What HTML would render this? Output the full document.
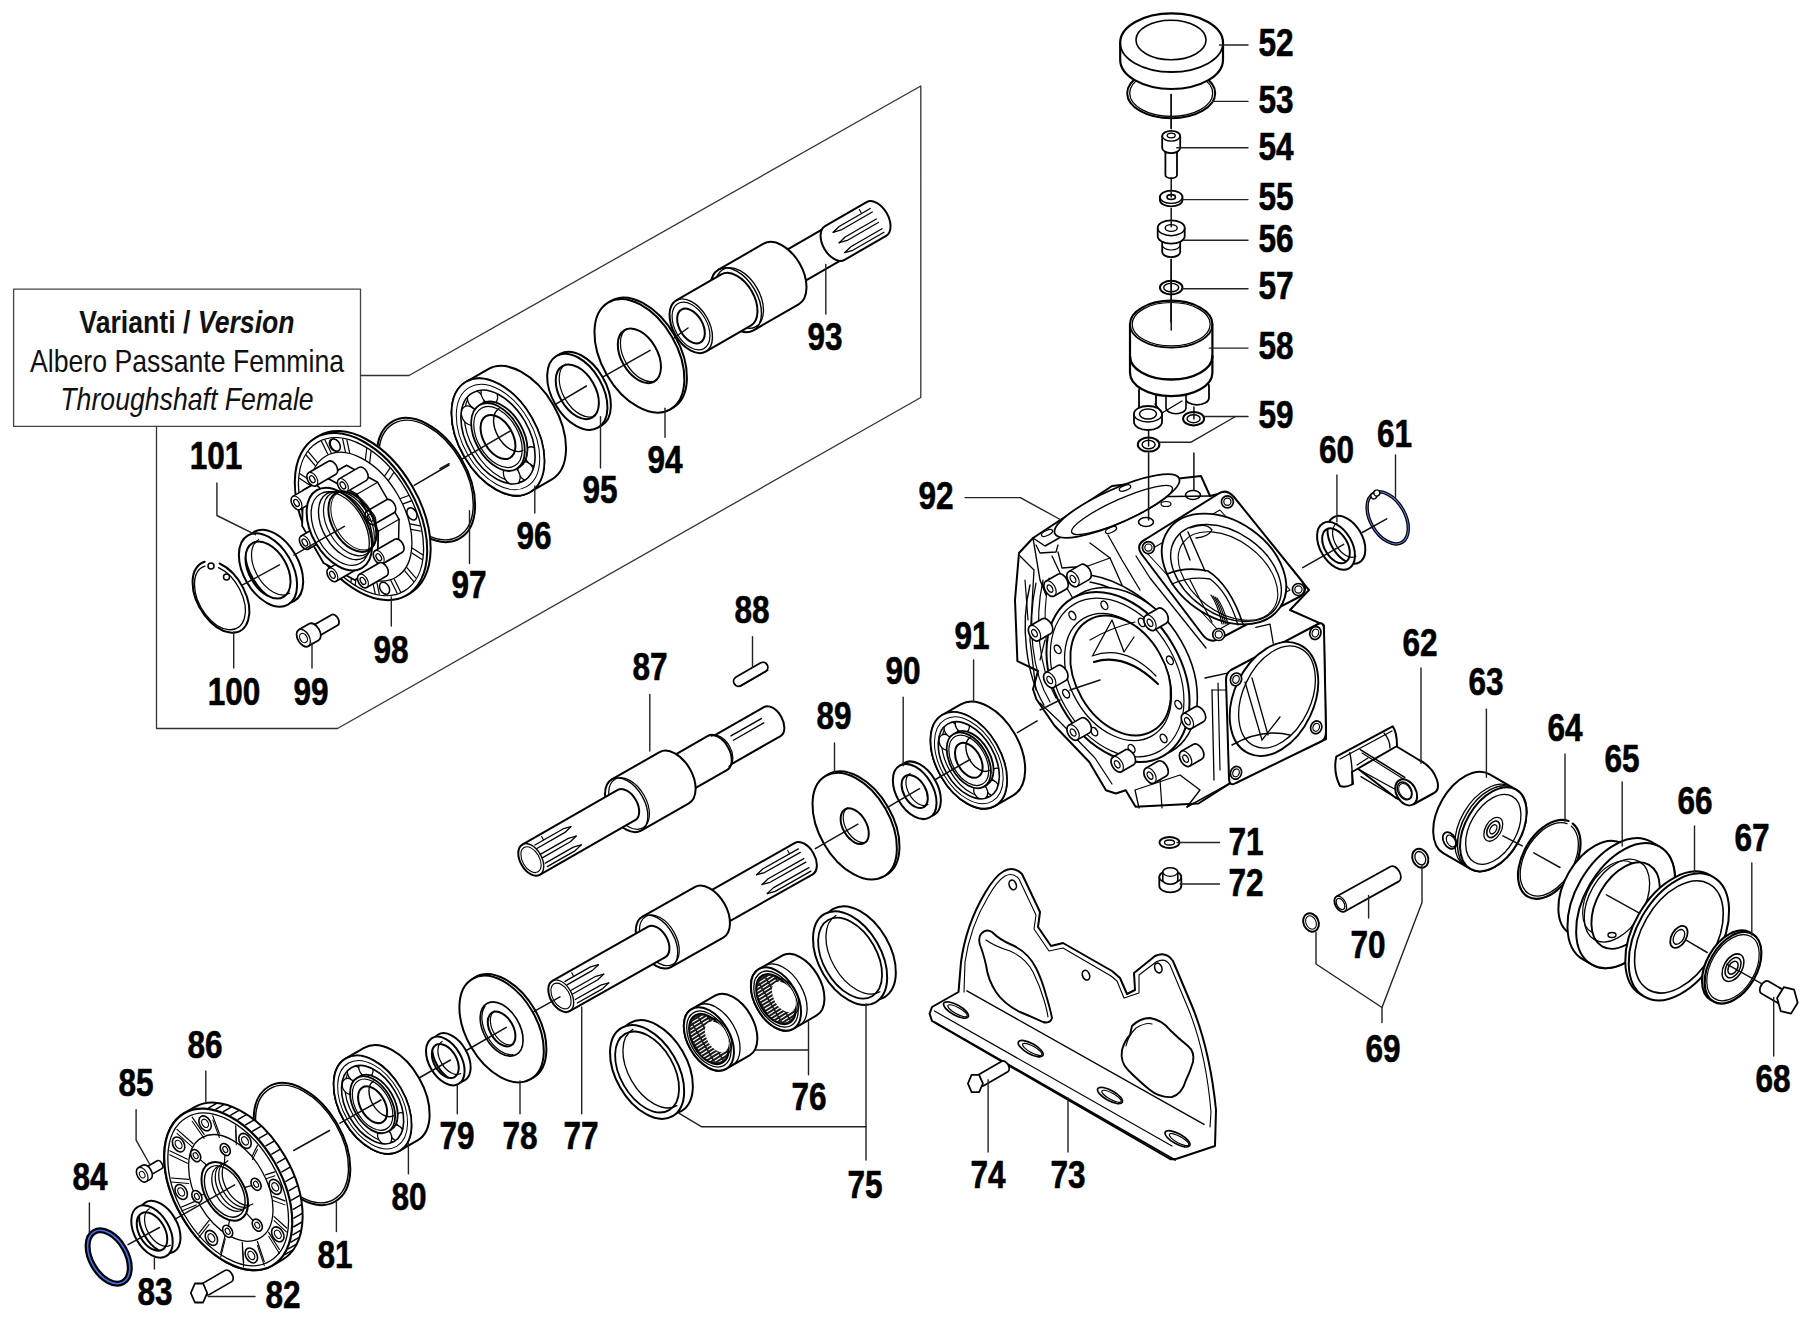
<!DOCTYPE html>
<html><head><meta charset="utf-8"><style>
html,body{margin:0;padding:0;background:#fff;overflow:hidden}
svg{display:block}
.n{font-family:"Liberation Sans",sans-serif;font-weight:bold;font-size:38.5px;text-anchor:middle;fill:#000;stroke:#000;stroke-width:0.6px}
.t1{font-family:"Liberation Sans",sans-serif;font-size:31px;text-anchor:middle;fill:#111}
</style></head><body>
<svg width="1814" height="1330" viewBox="0 0 1814 1330" stroke-linejoin="round" stroke-linecap="round">
<rect width="1814" height="1330" fill="#fff"/>
<g transform="translate(426 480) rotate(-30)">
<ellipse cx="0" cy="0" rx="41.2" ry="67.5" fill="none" stroke="#000" stroke-width="2.0" />
<ellipse cx="0" cy="0" rx="39.6" ry="65" fill="none" stroke="#000" stroke-width="1.4" />
</g>
<g transform="translate(361 516.6) rotate(-30)">
<ellipse cx="4" cy="0" rx="55.5" ry="91" fill="#fff" stroke="#000" stroke-width="2" />
<ellipse cx="0" cy="0" rx="55.5" ry="91" fill="#fff" stroke="#000" stroke-width="2" />
<ellipse cx="0" cy="0" rx="52.5" ry="86" fill="none" stroke="#000" stroke-width="1.3" />
<ellipse cx="0" cy="0" rx="42.7" ry="70" fill="none" stroke="#000" stroke-width="1.3" />
<path d="M51.8,5.5 L43.3,4.1" fill="none" stroke="#000" stroke-width="1.2" />
<path d="M51.4,11.5 L42.9,10.1" fill="none" stroke="#000" stroke-width="1.2" />
<path d="M46.5,37.6 L39.0,30.9" fill="none" stroke="#000" stroke-width="1.2" />
<path d="M44.8,42.8 L37.3,36.2" fill="none" stroke="#000" stroke-width="1.2" />
<path d="M34.2,63.9 L28.8,53.1" fill="none" stroke="#000" stroke-width="1.2" />
<path d="M31.4,67.7 L26.0,56.9" fill="none" stroke="#000" stroke-width="1.2" />
<path d="M16.7,80.5 L14.2,67.1" fill="none" stroke="#000" stroke-width="1.2" />
<path d="M13.2,82.3 L10.8,68.8" fill="none" stroke="#000" stroke-width="1.2" />
<path d="M-3.4,84.9 L-2.5,70.9" fill="none" stroke="#000" stroke-width="1.2" />
<path d="M-7.0,84.3 L-6.1,70.3" fill="none" stroke="#000" stroke-width="1.2" />
<path d="M-22.9,76.3 L-18.9,64.0" fill="none" stroke="#000" stroke-width="1.2" />
<path d="M-26.1,73.5 L-22.1,61.1" fill="none" stroke="#000" stroke-width="1.2" />
<path d="M-39.0,56.1 L-32.4,47.3" fill="none" stroke="#000" stroke-width="1.2" />
<path d="M-41.3,51.5 L-34.7,42.6" fill="none" stroke="#000" stroke-width="1.2" />
<path d="M-49.1,27.4 L-40.9,23.4" fill="none" stroke="#000" stroke-width="1.2" />
<path d="M-50.2,21.7 L-42.0,17.6" fill="none" stroke="#000" stroke-width="1.2" />
<path d="M-51.8,-5.5 L-43.3,-4.1" fill="none" stroke="#000" stroke-width="1.2" />
<path d="M-51.4,-11.5 L-42.9,-10.1" fill="none" stroke="#000" stroke-width="1.2" />
<path d="M-46.5,-37.6 L-39.0,-30.9" fill="none" stroke="#000" stroke-width="1.2" />
<path d="M-44.8,-42.8 L-37.3,-36.2" fill="none" stroke="#000" stroke-width="1.2" />
<path d="M-34.2,-63.9 L-28.8,-53.1" fill="none" stroke="#000" stroke-width="1.2" />
<path d="M-31.4,-67.7 L-26.0,-56.9" fill="none" stroke="#000" stroke-width="1.2" />
<path d="M-16.7,-80.5 L-14.2,-67.1" fill="none" stroke="#000" stroke-width="1.2" />
<path d="M-13.2,-82.3 L-10.8,-68.8" fill="none" stroke="#000" stroke-width="1.2" />
<path d="M3.4,-84.9 L2.5,-70.9" fill="none" stroke="#000" stroke-width="1.2" />
<path d="M7.0,-84.3 L6.1,-70.3" fill="none" stroke="#000" stroke-width="1.2" />
<path d="M22.9,-76.3 L18.9,-64.0" fill="none" stroke="#000" stroke-width="1.2" />
<path d="M26.1,-73.5 L22.1,-61.1" fill="none" stroke="#000" stroke-width="1.2" />
<path d="M39.0,-56.1 L32.4,-47.3" fill="none" stroke="#000" stroke-width="1.2" />
<path d="M41.3,-51.5 L34.7,-42.6" fill="none" stroke="#000" stroke-width="1.2" />
<path d="M49.1,-27.4 L40.9,-23.4" fill="none" stroke="#000" stroke-width="1.2" />
<path d="M50.2,-21.7 L42.0,-17.6" fill="none" stroke="#000" stroke-width="1.2" />
<ellipse cx="12.7" cy="-75.2" rx="4.5" ry="6.5" fill="#fff" stroke="#000" stroke-width="1.5" />
<ellipse cx="45.5" cy="23.1" rx="4.5" ry="6.5" fill="#fff" stroke="#000" stroke-width="1.5" />
<ellipse cx="-15.4" cy="73.8" rx="4.5" ry="6.5" fill="#fff" stroke="#000" stroke-width="1.5" />
<ellipse cx="-44.6" cy="-27.4" rx="4.5" ry="6.5" fill="#fff" stroke="#000" stroke-width="1.5" />
<ellipse cx="13.5" cy="-74.8" rx="4.5" ry="6.5" fill="#fff" stroke="#000" stroke-width="1.5" />
<path d="M31.6,21.4 L13.1,51.7 L-13.1,51.7 L-31.6,21.4 L-31.6,-21.4 L-13.1,-51.7 L13.1,-51.7 L31.6,-21.4Z" fill="#fff" stroke="#000" stroke-width="1.5" />
<path d="M31.6,21.4 L7.6,21.4" fill="none" stroke="#000" stroke-width="1.2" />
<path d="M13.1,51.7 L-10.9,51.7" fill="none" stroke="#000" stroke-width="1.2" />
<path d="M-13.1,51.7 L-37.1,51.7" fill="none" stroke="#000" stroke-width="1.2" />
<path d="M-31.6,21.4 L-55.6,21.4" fill="none" stroke="#000" stroke-width="1.2" />
<path d="M-31.6,-21.4 L-55.6,-21.4" fill="none" stroke="#000" stroke-width="1.2" />
<path d="M-13.1,-51.7 L-37.1,-51.7" fill="none" stroke="#000" stroke-width="1.2" />
<path d="M13.1,-51.7 L-10.9,-51.7" fill="none" stroke="#000" stroke-width="1.2" />
<path d="M31.6,-21.4 L7.6,-21.4" fill="none" stroke="#000" stroke-width="1.2" />
<path d="M7.6,21.4 L-10.9,51.7 L-37.1,51.7 L-55.6,21.4 L-55.6,-21.4 L-37.1,-51.7 L-10.9,-51.7 L7.6,-21.4Z" fill="#fff" stroke="#000" stroke-width="1.8" />
<g transform="translate(34.6 5.7)">
<path d="M-27,-7.5 L-4,-7.5 A4.6,7.5 0 0 1 -4,7.5 L-27,7.5 A4.6,7.5 0 0 1 -27,-7.5Z" fill="#fff" stroke="#000" stroke-width="1.6" />
<path d="M-27,-7.5 A4.6,7.5 0 0 1 -27,7.5" fill="none" stroke="#000" stroke-width="1.1199999999999999" />
<ellipse cx="-27" cy="0" rx="2.3" ry="3.8" fill="none" stroke="#000" stroke-width="1.3" />
</g>
<g transform="translate(22.0 44.1)">
<path d="M-27,-7.5 L-4,-7.5 A4.6,7.5 0 0 1 -4,7.5 L-27,7.5 A4.6,7.5 0 0 1 -27,-7.5Z" fill="#fff" stroke="#000" stroke-width="1.6" />
<path d="M-27,-7.5 A4.6,7.5 0 0 1 -27,7.5" fill="none" stroke="#000" stroke-width="1.1199999999999999" />
<ellipse cx="-27" cy="0" rx="2.3" ry="3.8" fill="none" stroke="#000" stroke-width="1.3" />
</g>
<g transform="translate(-3.5 56.7)">
<path d="M-27,-7.5 L-4,-7.5 A4.6,7.5 0 0 1 -4,7.5 L-27,7.5 A4.6,7.5 0 0 1 -27,-7.5Z" fill="#fff" stroke="#000" stroke-width="1.6" />
<path d="M-27,-7.5 A4.6,7.5 0 0 1 -27,7.5" fill="none" stroke="#000" stroke-width="1.1199999999999999" />
<ellipse cx="-27" cy="0" rx="2.3" ry="3.8" fill="none" stroke="#000" stroke-width="1.3" />
</g>
<g transform="translate(-26.9 36.1)">
<path d="M-27,-7.5 L-4,-7.5 A4.6,7.5 0 0 1 -4,7.5 L-27,7.5 A4.6,7.5 0 0 1 -27,-7.5Z" fill="#fff" stroke="#000" stroke-width="1.6" />
<path d="M-27,-7.5 A4.6,7.5 0 0 1 -27,7.5" fill="none" stroke="#000" stroke-width="1.1199999999999999" />
<ellipse cx="-27" cy="0" rx="2.3" ry="3.8" fill="none" stroke="#000" stroke-width="1.3" />
</g>
<g transform="translate(-34.6 -5.7)">
<path d="M-27,-7.5 L-4,-7.5 A4.6,7.5 0 0 1 -4,7.5 L-27,7.5 A4.6,7.5 0 0 1 -27,-7.5Z" fill="#fff" stroke="#000" stroke-width="1.6" />
<path d="M-27,-7.5 A4.6,7.5 0 0 1 -27,7.5" fill="none" stroke="#000" stroke-width="1.1199999999999999" />
<ellipse cx="-27" cy="0" rx="2.3" ry="3.8" fill="none" stroke="#000" stroke-width="1.3" />
</g>
<g transform="translate(-22.0 -44.1)">
<path d="M-27,-7.5 L-4,-7.5 A4.6,7.5 0 0 1 -4,7.5 L-27,7.5 A4.6,7.5 0 0 1 -27,-7.5Z" fill="#fff" stroke="#000" stroke-width="1.6" />
<path d="M-27,-7.5 A4.6,7.5 0 0 1 -27,7.5" fill="none" stroke="#000" stroke-width="1.1199999999999999" />
<ellipse cx="-27" cy="0" rx="2.3" ry="3.8" fill="none" stroke="#000" stroke-width="1.3" />
</g>
<g transform="translate(3.5 -56.7)">
<path d="M-27,-7.5 L-4,-7.5 A4.6,7.5 0 0 1 -4,7.5 L-27,7.5 A4.6,7.5 0 0 1 -27,-7.5Z" fill="#fff" stroke="#000" stroke-width="1.6" />
<path d="M-27,-7.5 A4.6,7.5 0 0 1 -27,7.5" fill="none" stroke="#000" stroke-width="1.1199999999999999" />
<ellipse cx="-27" cy="0" rx="2.3" ry="3.8" fill="none" stroke="#000" stroke-width="1.3" />
</g>
<g transform="translate(26.9 -36.1)">
<path d="M-27,-7.5 L-4,-7.5 A4.6,7.5 0 0 1 -4,7.5 L-27,7.5 A4.6,7.5 0 0 1 -27,-7.5Z" fill="#fff" stroke="#000" stroke-width="1.6" />
<path d="M-27,-7.5 A4.6,7.5 0 0 1 -27,7.5" fill="none" stroke="#000" stroke-width="1.1199999999999999" />
<ellipse cx="-27" cy="0" rx="2.3" ry="3.8" fill="none" stroke="#000" stroke-width="1.3" />
</g>
<ellipse cx="-25" cy="0" rx="27.4" ry="45" fill="#fff" stroke="#000" stroke-width="2" />
<ellipse cx="-24" cy="0" rx="24.4" ry="40" fill="none" stroke="#000" stroke-width="1.3" />
<ellipse cx="-18" cy="0" rx="22.6" ry="37" fill="none" stroke="#000" stroke-width="1.4" />
<ellipse cx="-14" cy="0" rx="21.3" ry="35" fill="none" stroke="#000" stroke-width="1.2" />
<ellipse cx="-10" cy="0" rx="20.1" ry="33" fill="none" stroke="#000" stroke-width="2.0" />
<ellipse cx="-8" cy="0" rx="19.5" ry="32" fill="none" stroke="#000" stroke-width="1.0" />
</g>
<g transform="translate(268 570) rotate(-30)">
<ellipse cx="7" cy="0" rx="24.4" ry="40" fill="#fff" stroke="#000" stroke-width="2" />
<path d="M0,-40 A24.4,40 0 1 1 0,40 A24.4,40 0 1 1 0,-40Z M0,-31 A18.9,31 0 1 0 0,31 A18.9,31 0 1 0 0,-31Z" fill="#fff" stroke="#000" stroke-width="2" fill-rule="evenodd"/>
<path d="M7,-31 A18.9,31 0 0 0 7,31" fill="none" stroke="#000" stroke-width="1.2" />
</g>
<g transform="translate(219 598.5) rotate(-30)">
<path d="M6,-39 A23.8,39 0 1 0 18,-30" fill="none" stroke="#000" stroke-width="2.0" />
<path d="M4,-35 A21.3,35 0 1 0 15,-27" fill="none" stroke="#000" stroke-width="1.3" />
</g>
<ellipse cx="211" cy="566" rx="3" ry="3" fill="none" stroke="#000" stroke-width="1.5" />
<ellipse cx="226.5" cy="577" rx="3" ry="3" fill="none" stroke="#000" stroke-width="1.5" />
<g transform="translate(303.5 638) rotate(-30)">
<path d="M6,-6 L36,-6 A3.7,6 0 0 1 36,6 L6,6 A3.7,6 0 0 1 6,-6Z" fill="#fff" stroke="#000" stroke-width="1.8" />
<path d="M0,-9.5 L12,-9.5 A5.8,9.5 0 0 1 12,9.5 L0,9.5 A5.8,9.5 0 0 1 0,-9.5Z" fill="#fff" stroke="#000" stroke-width="1.8" />
<path d="M0,-9.5 A5.8,9.5 0 0 1 0,9.5" fill="none" stroke="#000" stroke-width="1.26" />
<ellipse cx="0" cy="0" rx="3.5" ry="5" fill="none" stroke="#000" stroke-width="1.2" />
</g>
<g transform="translate(498 437) rotate(-30)">
<path d="M0,-63.7 L25,-63.7 A38.9,63.7 0 0 1 25,63.7 L0,63.7 A38.9,63.7 0 0 1 0,-63.7Z" fill="#fff" stroke="#000" stroke-width="2" />
<ellipse cx="0" cy="0" rx="38.9" ry="63.7" fill="#fff" stroke="#000" stroke-width="2" />
<ellipse cx="4" cy="0" rx="31.1" ry="51" fill="none" stroke="#000" stroke-width="1.2" />
<ellipse cx="-13.9" cy="-32.8" rx="7.7" ry="10.2" fill="#fff" stroke="#000" stroke-width="1.3" />
<ellipse cx="-0.8" cy="-43.2" rx="7.7" ry="10.2" fill="#fff" stroke="#000" stroke-width="1.3" />
<ellipse cx="13.7" cy="-41" rx="7.7" ry="10.2" fill="#fff" stroke="#000" stroke-width="1.3" />
<ellipse cx="20.7" cy="34.4" rx="7.7" ry="10.2" fill="#fff" stroke="#000" stroke-width="1.3" />
<ellipse cx="7.2" cy="43.6" rx="7.7" ry="10.2" fill="#fff" stroke="#000" stroke-width="1.3" />
<ellipse cx="-7.2" cy="40" rx="7.7" ry="10.2" fill="#fff" stroke="#000" stroke-width="1.3" />
<path d="M0,-63.7 A38.9,63.7 0 1 1 0,63.7 A38.9,63.7 0 1 1 0,-63.7Z M0,-51.0 A31.1,51.0 0 1 0 0,51.0 A31.1,51.0 0 1 0 0,-51.0Z" fill="#fff" stroke="#000" stroke-width="1.6" fill-rule="evenodd"/>
<ellipse cx="0" cy="0" rx="35" ry="57.3" fill="none" stroke="#000" stroke-width="1.0" />
<ellipse cx="3" cy="0" rx="22.5" ry="36.9" fill="#fff" stroke="#000" stroke-width="1.8" />
<ellipse cx="0" cy="0" rx="22.5" ry="36.9" fill="#fff" stroke="#000" stroke-width="1.8" />
<ellipse cx="0" cy="0" rx="20.3" ry="33.3" fill="none" stroke="#000" stroke-width="1.2" />
<ellipse cx="0" cy="0" rx="14.6" ry="24" fill="#fff" stroke="#000" stroke-width="2" />
<path d="M15.0,-24 A14.6,24 0 0 0 15.0,24" fill="none" stroke="#000" stroke-width="1.4" />
</g>
<g transform="translate(577.3 391.8) rotate(-30)">
<ellipse cx="4" cy="0" rx="25.3" ry="41.4" fill="#fff" stroke="#000" stroke-width="2" />
<path d="M0,-41.4 A25.3,41.4 0 1 1 0,41.4 A25.3,41.4 0 1 1 0,-41.4Z M0,-29.7 A18.1,29.7 0 1 0 0,29.7 A18.1,29.7 0 1 0 0,-29.7Z" fill="#fff" stroke="#000" stroke-width="2" fill-rule="evenodd"/>
<path d="M4,-29.7 A18.1,29.7 0 0 0 4,29.7" fill="none" stroke="#000" stroke-width="1.2" />
</g>
<g transform="translate(639.4 355.8) rotate(-30)">
<ellipse cx="3" cy="0" rx="37.7" ry="61.8" fill="#fff" stroke="#000" stroke-width="2" />
<path d="M0,-61.8 A37.7,61.8 0 1 1 0,61.8 A37.7,61.8 0 1 1 0,-61.8Z M0,-29.7 A18.1,29.7 0 1 0 0,29.7 A18.1,29.7 0 1 0 0,-29.7Z" fill="#fff" stroke="#000" stroke-width="2" fill-rule="evenodd"/>
<path d="M3,-29.7 A18.1,29.7 0 0 0 3,29.7" fill="none" stroke="#000" stroke-width="1.2" />
</g>
<g transform="translate(691 326) rotate(-30)">
<path d="M104,-18 L214,-18 A11,18 0 0 1 214,18 L104,18 A11,18 0 0 1 104,-18Z" fill="#fff" stroke="#000" stroke-width="2" />
<path d="M104,-18 A11,18 0 0 1 104,18" fill="none" stroke="#000" stroke-width="1.4" />
<path d="M166,-19.5 L214,-19.5 A11.9,19.5 0 0 1 214,19.5 L166,19.5 A11.9,19.5 0 0 1 166,-19.5Z" fill="#fff" stroke="#000" stroke-width="2" />
<path d="M170.0,-10.1 L178.0,-12.1 L214.0,-12.1" fill="none" stroke="#000" stroke-width="1.3" />
<path d="M170.0,-10.1 L178.0,-8.1 L214.0,-8.1" fill="none" stroke="#000" stroke-width="1.3" />
<path d="M170.0,2.0 L178.0,0.0 L214.0,0.0" fill="none" stroke="#000" stroke-width="1.3" />
<path d="M170.0,2.0 L178.0,4.0 L214.0,4.0" fill="none" stroke="#000" stroke-width="1.3" />
<path d="M170.0,13.3 L178.0,11.3 L214.0,11.3" fill="none" stroke="#000" stroke-width="1.3" />
<path d="M170.0,13.3 L178.0,15.3 L214.0,15.3" fill="none" stroke="#000" stroke-width="1.3" />
<path d="M204.0,-16.6 L204.0,-12.1" fill="none" stroke="#000" stroke-width="1.1" />
<path d="M52,-35 L104,-35 A21.3,35 0 0 1 104,35 L52,35 A21.3,35 0 0 1 52,-35Z" fill="#fff" stroke="#000" stroke-width="2" />
<path d="M52,-35 A21.3,35 0 0 1 52,35" fill="none" stroke="#000" stroke-width="1.4" />
<ellipse cx="56" cy="0" rx="20.1" ry="33" fill="none" stroke="#000" stroke-width="1.3" />
<path d="M0,-29.5 L52,-29.5 A18,29.5 0 0 1 52,29.5 L0,29.5 A18,29.5 0 0 1 0,-29.5Z" fill="#fff" stroke="#000" stroke-width="2" />
<path d="M0,-29.5 A18,29.5 0 0 1 0,29.5" fill="none" stroke="#000" stroke-width="1.4" />
<ellipse cx="0" cy="0" rx="11.6" ry="19" fill="none" stroke="#000" stroke-width="2" />
<ellipse cx="0" cy="0" rx="15.9" ry="26" fill="none" stroke="#000" stroke-width="1.2" />
</g>
<g transform="translate(302 1144) rotate(-30)">
<ellipse cx="0" cy="0" rx="40.5" ry="66.4" fill="none" stroke="#000" stroke-width="2.0" />
<ellipse cx="0" cy="0" rx="39" ry="63.9" fill="none" stroke="#000" stroke-width="1.4" />
</g>
<g transform="translate(228.2 1189.4) rotate(-30)">
<path d="M0,-88 L12,-88 A53.7,88 0 0 1 12,88 L0,88 A53.7,88 0 0 1 0,-88Z" fill="#fff" stroke="#000" stroke-width="2" />
<path d="M23.9,-80.3 L32.9,-80.3" fill="none" stroke="#000" stroke-width="1.5" />
<path d="M29.5,-75.6 L38.5,-75.6" fill="none" stroke="#000" stroke-width="1.5" />
<path d="M34.7,-69.8 L43.7,-69.8" fill="none" stroke="#000" stroke-width="1.5" />
<path d="M39.4,-63.1 L48.4,-63.1" fill="none" stroke="#000" stroke-width="1.5" />
<path d="M43.6,-55.6 L52.6,-55.6" fill="none" stroke="#000" stroke-width="1.5" />
<path d="M47.3,-47.2 L56.3,-47.2" fill="none" stroke="#000" stroke-width="1.5" />
<path d="M50.3,-38.3 L59.3,-38.3" fill="none" stroke="#000" stroke-width="1.5" />
<path d="M52.7,-28.8 L61.7,-28.8" fill="none" stroke="#000" stroke-width="1.5" />
<path d="M54.4,-18.9 L63.4,-18.9" fill="none" stroke="#000" stroke-width="1.5" />
<path d="M55.4,-8.8 L64.4,-8.8" fill="none" stroke="#000" stroke-width="1.5" />
<path d="M55.7,1.5 L64.7,1.5" fill="none" stroke="#000" stroke-width="1.5" />
<path d="M55.2,11.7 L64.2,11.7" fill="none" stroke="#000" stroke-width="1.5" />
<path d="M54.0,21.8 L63.0,21.8" fill="none" stroke="#000" stroke-width="1.5" />
<path d="M52.1,31.5 L61.1,31.5" fill="none" stroke="#000" stroke-width="1.5" />
<path d="M49.5,40.9 L58.5,40.9" fill="none" stroke="#000" stroke-width="1.5" />
<path d="M46.3,49.7 L55.3,49.7" fill="none" stroke="#000" stroke-width="1.5" />
<path d="M42.5,57.8 L51.5,57.8" fill="none" stroke="#000" stroke-width="1.5" />
<path d="M38.1,65.1 L47.1,65.1" fill="none" stroke="#000" stroke-width="1.5" />
<path d="M33.2,71.6 L42.2,71.6" fill="none" stroke="#000" stroke-width="1.5" />
<path d="M27.9,77.1 L36.9,77.1" fill="none" stroke="#000" stroke-width="1.5" />
<path d="M22.3,81.5 L31.3,81.5" fill="none" stroke="#000" stroke-width="1.5" />
<path d="M16.4,84.8 L25.4,84.8" fill="none" stroke="#000" stroke-width="1.5" />
<ellipse cx="0" cy="0" rx="53.7" ry="88" fill="#fff" stroke="#000" stroke-width="2.2" />
<ellipse cx="0" cy="0" rx="50.6" ry="83" fill="none" stroke="#000" stroke-width="1.3" />
<ellipse cx="3" cy="0" rx="35.4" ry="58" fill="none" stroke="#000" stroke-width="1.3" />
<path d="M49.2,8.1 L39.4,6.0" fill="none" stroke="#000" stroke-width="1.2" />
<path d="M47.2,11.6 L37.4,9.5" fill="none" stroke="#000" stroke-width="1.0" />
<path d="M43.5,38.3 L35.2,28.4" fill="none" stroke="#000" stroke-width="1.2" />
<path d="M41.5,41.8 L33.2,31.9" fill="none" stroke="#000" stroke-width="1.0" />
<path d="M31.3,62.7 L26.2,46.5" fill="none" stroke="#000" stroke-width="1.2" />
<path d="M29.3,66.2 L24.2,50.0" fill="none" stroke="#000" stroke-width="1.0" />
<path d="M14.3,77.6 L13.6,57.4" fill="none" stroke="#000" stroke-width="1.2" />
<path d="M12.3,81.1 L11.6,60.9" fill="none" stroke="#000" stroke-width="1.0" />
<path d="M-4.9,80.6 L-0.7,59.7" fill="none" stroke="#000" stroke-width="1.2" />
<path d="M-6.9,84.1 L-2.7,63.2" fill="none" stroke="#000" stroke-width="1.0" />
<path d="M-23.4,71.4 L-14.3,52.9" fill="none" stroke="#000" stroke-width="1.2" />
<path d="M-25.4,74.9 L-16.3,56.4" fill="none" stroke="#000" stroke-width="1.0" />
<path d="M-38.3,51.3 L-25.3,38.0" fill="none" stroke="#000" stroke-width="1.2" />
<path d="M-40.3,54.8 L-27.3,41.5" fill="none" stroke="#000" stroke-width="1.0" />
<path d="M-47.3,23.4 L-32.0,17.3" fill="none" stroke="#000" stroke-width="1.2" />
<path d="M-49.3,26.9 L-34.0,20.8" fill="none" stroke="#000" stroke-width="1.0" />
<path d="M-49.2,-8.1 L-33.4,-6.0" fill="none" stroke="#000" stroke-width="1.2" />
<path d="M-51.2,-4.6 L-35.4,-2.5" fill="none" stroke="#000" stroke-width="1.0" />
<path d="M-43.5,-38.3 L-29.2,-28.4" fill="none" stroke="#000" stroke-width="1.2" />
<path d="M-45.5,-34.8 L-31.2,-24.9" fill="none" stroke="#000" stroke-width="1.0" />
<path d="M-31.3,-62.7 L-20.2,-46.5" fill="none" stroke="#000" stroke-width="1.2" />
<path d="M-33.3,-59.2 L-22.2,-43.0" fill="none" stroke="#000" stroke-width="1.0" />
<path d="M-14.3,-77.6 L-7.6,-57.4" fill="none" stroke="#000" stroke-width="1.2" />
<path d="M-16.3,-74.1 L-9.6,-53.9" fill="none" stroke="#000" stroke-width="1.0" />
<path d="M4.9,-80.6 L6.7,-59.7" fill="none" stroke="#000" stroke-width="1.2" />
<path d="M2.9,-77.1 L4.7,-56.2" fill="none" stroke="#000" stroke-width="1.0" />
<path d="M23.4,-71.4 L20.3,-52.9" fill="none" stroke="#000" stroke-width="1.2" />
<path d="M21.4,-67.9 L18.3,-49.4" fill="none" stroke="#000" stroke-width="1.0" />
<path d="M38.3,-51.3 L31.3,-38.0" fill="none" stroke="#000" stroke-width="1.2" />
<path d="M36.3,-47.8 L29.3,-34.5" fill="none" stroke="#000" stroke-width="1.0" />
<path d="M47.3,-23.4 L38.0,-17.3" fill="none" stroke="#000" stroke-width="1.2" />
<path d="M45.3,-19.9 L36.0,-13.8" fill="none" stroke="#000" stroke-width="1.0" />
<ellipse cx="42" cy="21.3" rx="5.5" ry="8" fill="#fff" stroke="#000" stroke-width="1.6" />
<ellipse cx="42" cy="21.3" rx="3" ry="4.5" fill="none" stroke="#000" stroke-width="1.2" />
<ellipse cx="20.5" cy="63.7" rx="5.5" ry="8" fill="#fff" stroke="#000" stroke-width="1.6" />
<ellipse cx="20.5" cy="63.7" rx="3" ry="4.5" fill="none" stroke="#000" stroke-width="1.2" />
<ellipse cx="-13" cy="68.8" rx="5.5" ry="8" fill="#fff" stroke="#000" stroke-width="1.6" />
<ellipse cx="-13" cy="68.8" rx="3" ry="4.5" fill="none" stroke="#000" stroke-width="1.2" />
<ellipse cx="-38.8" cy="33.6" rx="5.5" ry="8" fill="#fff" stroke="#000" stroke-width="1.6" />
<ellipse cx="-38.8" cy="33.6" rx="3" ry="4.5" fill="none" stroke="#000" stroke-width="1.2" />
<ellipse cx="-42" cy="-21.3" rx="5.5" ry="8" fill="#fff" stroke="#000" stroke-width="1.6" />
<ellipse cx="-42" cy="-21.3" rx="3" ry="4.5" fill="none" stroke="#000" stroke-width="1.2" />
<ellipse cx="-20.5" cy="-63.7" rx="5.5" ry="8" fill="#fff" stroke="#000" stroke-width="1.6" />
<ellipse cx="-20.5" cy="-63.7" rx="3" ry="4.5" fill="none" stroke="#000" stroke-width="1.2" />
<ellipse cx="13" cy="-68.8" rx="5.5" ry="8" fill="#fff" stroke="#000" stroke-width="1.6" />
<ellipse cx="13" cy="-68.8" rx="3" ry="4.5" fill="none" stroke="#000" stroke-width="1.2" />
<ellipse cx="38.8" cy="-33.6" rx="5.5" ry="8" fill="#fff" stroke="#000" stroke-width="1.6" />
<ellipse cx="38.8" cy="-33.6" rx="3" ry="4.5" fill="none" stroke="#000" stroke-width="1.2" />
<path d="M26.7,9.5 L12.0,5.7" fill="none" stroke="#000" stroke-width="1.2" />
<ellipse cx="26.7" cy="9.5" rx="4.5" ry="6.5" fill="#fff" stroke="#000" stroke-width="1.6" />
<ellipse cx="26.7" cy="9.5" rx="2.2" ry="3.2" fill="none" stroke="#000" stroke-width="1.1" />
<path d="M7.3,45.5 L3.3,27.3" fill="none" stroke="#000" stroke-width="1.2" />
<ellipse cx="7.3" cy="45.5" rx="4.5" ry="6.5" fill="#fff" stroke="#000" stroke-width="1.6" />
<ellipse cx="7.3" cy="45.5" rx="2.2" ry="3.2" fill="none" stroke="#000" stroke-width="1.1" />
<path d="M-21.4,36.0 L-9.6,21.6" fill="none" stroke="#000" stroke-width="1.2" />
<ellipse cx="-21.4" cy="36" rx="4.5" ry="6.5" fill="#fff" stroke="#000" stroke-width="1.6" />
<ellipse cx="-21.4" cy="36" rx="2.2" ry="3.2" fill="none" stroke="#000" stroke-width="1.1" />
<path d="M-30.7,-9.5 L-13.8,-5.7" fill="none" stroke="#000" stroke-width="1.2" />
<ellipse cx="-30.7" cy="-9.5" rx="4.5" ry="6.5" fill="#fff" stroke="#000" stroke-width="1.6" />
<ellipse cx="-30.7" cy="-9.5" rx="2.2" ry="3.2" fill="none" stroke="#000" stroke-width="1.1" />
<path d="M-11.3,-45.5 L-5.1,-27.3" fill="none" stroke="#000" stroke-width="1.2" />
<ellipse cx="-11.3" cy="-45.5" rx="4.5" ry="6.5" fill="#fff" stroke="#000" stroke-width="1.6" />
<ellipse cx="-11.3" cy="-45.5" rx="2.2" ry="3.2" fill="none" stroke="#000" stroke-width="1.1" />
<path d="M17.4,-36.0 L7.8,-21.6" fill="none" stroke="#000" stroke-width="1.2" />
<ellipse cx="17.4" cy="-36" rx="4.5" ry="6.5" fill="#fff" stroke="#000" stroke-width="1.6" />
<ellipse cx="17.4" cy="-36" rx="2.2" ry="3.2" fill="none" stroke="#000" stroke-width="1.1" />
<ellipse cx="-4" cy="0" rx="19.5" ry="32" fill="#fff" stroke="#000" stroke-width="2" />
<ellipse cx="-4" cy="0" rx="17.1" ry="28" fill="none" stroke="#000" stroke-width="1.4" />
<path d="M2.0,-25 A15.2,25 0 0 0 2.0,25" fill="none" stroke="#000" stroke-width="1.3" />
<path d="M6.0,-25 A15.2,25 0 0 0 6.0,25" fill="none" stroke="#000" stroke-width="1.3" />
<path d="M10.0,-25 A15.2,25 0 0 0 10.0,25" fill="none" stroke="#000" stroke-width="1.3" />
<path d="M14.0,-25 A15.2,25 0 0 0 14.0,25" fill="none" stroke="#000" stroke-width="1.3" />
</g>
<g transform="translate(142.2 1174.7) rotate(-30)">
<path d="M4,-4.5 L20,-4.5 A2.7,4.5 0 0 1 20,4.5 L4,4.5 A2.7,4.5 0 0 1 4,-4.5Z" fill="#fff" stroke="#000" stroke-width="1.6" />
<path d="M0,-8 L5,-8 A4.9,8 0 0 1 5,8 L0,8 A4.9,8 0 0 1 0,-8Z" fill="#fff" stroke="#000" stroke-width="1.6" />
<path d="M0,-8 A4.9,8 0 0 1 0,8" fill="none" stroke="#000" stroke-width="1.1199999999999999" />
<ellipse cx="0" cy="0" rx="2.5" ry="3.5" fill="none" stroke="#000" stroke-width="1.0" />
</g>
<g transform="translate(199 1293) rotate(-30)">
<path d="M8,-6.5 L34,-6.5 A4,6.5 0 0 1 34,6.5 L8,6.5 A4,6.5 0 0 1 8,-6.5Z" fill="#fff" stroke="#000" stroke-width="1.7" />
</g>
<path d="M207.2,1293 L203.1,1302.5 L194.9,1302.5 L190.8,1293 L194.9,1283.5 L203.1,1283.5Z" fill="#fff" stroke="#000" stroke-width="1.8" />
<g transform="translate(152 1231.5) rotate(-30)">
<ellipse cx="9" cy="0" rx="17.4" ry="28.5" fill="#fff" stroke="#000" stroke-width="2" />
<path d="M0,-28.5 A17.4,28.5 0 1 1 0,28.5 A17.4,28.5 0 1 1 0,-28.5Z M0,-21 A12.8,21 0 1 0 0,21 A12.8,21 0 1 0 0,-21Z" fill="#fff" stroke="#000" stroke-width="2" fill-rule="evenodd"/>
<path d="M9,-21 A12.8,21 0 0 0 9,21" fill="none" stroke="#000" stroke-width="1.2" />
</g>
<g transform="translate(108.7 1257) rotate(-30)">
<ellipse cx="0" cy="0" rx="17.7" ry="29" fill="none" stroke="#000" stroke-width="6" />
<ellipse cx="0" cy="0" rx="17.7" ry="29" fill="none" stroke="#4a6ef0" stroke-width="1.6" />
</g>
<g transform="translate(372.6 1104.7) rotate(-30)">
<path d="M0,-53.4 L21,-53.4 A32.6,53.4 0 0 1 21,53.4 L0,53.4 A32.6,53.4 0 0 1 0,-53.4Z" fill="#fff" stroke="#000" stroke-width="2" />
<ellipse cx="0" cy="0" rx="32.6" ry="53.4" fill="#fff" stroke="#000" stroke-width="2" />
<ellipse cx="4" cy="0" rx="26.1" ry="42.7" fill="none" stroke="#000" stroke-width="1.2" />
<ellipse cx="-11" cy="-27.5" rx="6.7" ry="8.5" fill="#fff" stroke="#000" stroke-width="1.3" />
<ellipse cx="-0" cy="-36.3" rx="6.7" ry="8.5" fill="#fff" stroke="#000" stroke-width="1.3" />
<ellipse cx="12.1" cy="-34.3" rx="6.7" ry="8.5" fill="#fff" stroke="#000" stroke-width="1.3" />
<ellipse cx="18" cy="28.9" rx="6.7" ry="8.5" fill="#fff" stroke="#000" stroke-width="1.3" />
<ellipse cx="6.7" cy="36.6" rx="6.7" ry="8.5" fill="#fff" stroke="#000" stroke-width="1.3" />
<ellipse cx="-5.4" cy="33.5" rx="6.7" ry="8.5" fill="#fff" stroke="#000" stroke-width="1.3" />
<path d="M0,-53.4 A32.6,53.4 0 1 1 0,53.4 A32.6,53.4 0 1 1 0,-53.4Z M0,-42.7 A26.1,42.7 0 1 0 0,42.7 A26.1,42.7 0 1 0 0,-42.7Z" fill="#fff" stroke="#000" stroke-width="1.6" fill-rule="evenodd"/>
<ellipse cx="0" cy="0" rx="29.3" ry="48.1" fill="none" stroke="#000" stroke-width="1.0" />
<ellipse cx="3" cy="0" rx="18.9" ry="31" fill="#fff" stroke="#000" stroke-width="1.8" />
<ellipse cx="0" cy="0" rx="18.9" ry="31" fill="#fff" stroke="#000" stroke-width="1.8" />
<ellipse cx="0" cy="0" rx="17" ry="27.9" fill="none" stroke="#000" stroke-width="1.2" />
<ellipse cx="0" cy="0" rx="12.2" ry="20" fill="#fff" stroke="#000" stroke-width="2" />
<path d="M12.6,-20 A12.2,20 0 0 0 12.6,20" fill="none" stroke="#000" stroke-width="1.4" />
</g>
<g transform="translate(445.3 1061) rotate(-30)">
<ellipse cx="7" cy="0" rx="16.2" ry="26.5" fill="#fff" stroke="#000" stroke-width="2" />
<path d="M0,-26.5 A16.2,26.5 0 1 1 0,26.5 A16.2,26.5 0 1 1 0,-26.5Z M0,-18.5 A11.3,18.5 0 1 0 0,18.5 A11.3,18.5 0 1 0 0,-18.5Z" fill="#fff" stroke="#000" stroke-width="2" fill-rule="evenodd"/>
<path d="M7,-18.5 A11.3,18.5 0 0 0 7,18.5" fill="none" stroke="#000" stroke-width="1.2" />
</g>
<g transform="translate(501.6 1029) rotate(-30)">
<ellipse cx="3" cy="0" rx="35.4" ry="58" fill="#fff" stroke="#000" stroke-width="2" />
<path d="M0,-58 A35.4,58 0 1 1 0,58 A35.4,58 0 1 1 0,-58Z M0,-19 A11.6,19 0 1 0 0,19 A11.6,19 0 1 0 0,-19Z" fill="#fff" stroke="#000" stroke-width="2" fill-rule="evenodd"/>
<path d="M3,-19 A11.6,19 0 0 0 3,19" fill="none" stroke="#000" stroke-width="1.2" />
</g>
<g transform="translate(501.6 1029) rotate(-30)">
<ellipse cx="0" cy="0" rx="18" ry="29.5" fill="none" stroke="#000" stroke-width="1.6" />
<path d="M-3,-28 A17.7,29 0 0 0 -3,28" fill="none" stroke="#000" stroke-width="1.3" />
</g>
<g transform="translate(561 996) rotate(-29.5)">
<path d="M170,-18 L279,-18 A11,18 0 0 1 279,18 L170,18 A11,18 0 0 1 170,-18Z" fill="#fff" stroke="#000" stroke-width="2" />
<path d="M170,-18 A11,18 0 0 1 170,18" fill="none" stroke="#000" stroke-width="1.4" />
<path d="M230.0,-9.2 L238.0,-11.2 L279.0,-11.2" fill="none" stroke="#000" stroke-width="1.3" />
<path d="M230.0,-9.2 L238.0,-7.2 L279.0,-7.2" fill="none" stroke="#000" stroke-width="1.3" />
<path d="M230.0,2.0 L238.0,0.0 L279.0,0.0" fill="none" stroke="#000" stroke-width="1.3" />
<path d="M230.0,2.0 L238.0,4.0 L279.0,4.0" fill="none" stroke="#000" stroke-width="1.3" />
<path d="M230.0,12.4 L238.0,10.4 L279.0,10.4" fill="none" stroke="#000" stroke-width="1.3" />
<path d="M230.0,12.4 L238.0,14.4 L279.0,14.4" fill="none" stroke="#000" stroke-width="1.3" />
<path d="M269.0,-15.3 L269.0,-11.2" fill="none" stroke="#000" stroke-width="1.1" />
<path d="M110,-29 L170,-29 A17.7,29 0 0 1 170,29 L110,29 A17.7,29 0 0 1 110,-29Z" fill="#fff" stroke="#000" stroke-width="2" />
<path d="M110,-29 A17.7,29 0 0 1 110,29" fill="none" stroke="#000" stroke-width="1.4" />
<ellipse cx="113" cy="0" rx="16.8" ry="27.5" fill="none" stroke="#000" stroke-width="1.2" />
<path d="M0,-17.5 L110,-17.5 A10.7,17.5 0 0 1 110,17.5 L0,17.5 A10.7,17.5 0 0 1 0,-17.5Z" fill="#fff" stroke="#000" stroke-width="2" />
<path d="M0,-17.5 A10.7,17.5 0 0 1 0,17.5" fill="none" stroke="#000" stroke-width="1.4" />
<path d="M10.7,-10.8 L40.0,-10.8 L48.0,-8.8" fill="none" stroke="#000" stroke-width="1.3" />
<path d="M10.7,-6.8 L40.0,-6.8 L48.0,-8.8" fill="none" stroke="#000" stroke-width="1.3" />
<path d="M10.7,0.0 L40.0,0.0 L48.0,2.0" fill="none" stroke="#000" stroke-width="1.3" />
<path d="M10.7,4.0 L40.0,4.0 L48.0,2.0" fill="none" stroke="#000" stroke-width="1.3" />
<path d="M10.7,10.1 L40.0,10.1 L48.0,12.1" fill="none" stroke="#000" stroke-width="1.3" />
<path d="M10.7,14.1 L40.0,14.1 L48.0,12.1" fill="none" stroke="#000" stroke-width="1.3" />
<path d="M20.7,-14.9 L20.7,-10.8" fill="none" stroke="#000" stroke-width="1.1" />
<ellipse cx="0" cy="0" rx="8.5" ry="14" fill="none" stroke="#000" stroke-width="1.1" />
</g>
<g transform="translate(776 999.1) rotate(-30)">
<path d="M0,-34.5 L27,-34.5 A21,34.5 0 0 1 27,34.5 L0,34.5 A21,34.5 0 0 1 0,-34.5Z" fill="#fff" stroke="#000" stroke-width="2" />
<ellipse cx="7" cy="0" rx="21" ry="34.5" fill="none" stroke="#000" stroke-width="1.3" />
<ellipse cx="0" cy="0" rx="21" ry="34.5" fill="#fff" stroke="#000" stroke-width="2" />
<ellipse cx="0" cy="0" rx="18.6" ry="30.5" fill="none" stroke="#000" stroke-width="1.3" />
<ellipse cx="0" cy="0" rx="16.8" ry="27.5" fill="#1a1a1a" stroke="#000" stroke-width="1.6" />
<clipPath id="nb776"><ellipse cx="0" cy="0" rx="15.6" ry="25.5"/></clipPath>
<g clip-path="url(#nb776)">
<path d="M-14,-28.8 L14,-29.8" fill="none" stroke="#fff" stroke-width="1.2" stroke-dasharray="6 2.5"/>
<path d="M-14,-25.6 L14,-26.6" fill="none" stroke="#fff" stroke-width="1.2" stroke-dasharray="6 2.5"/>
<path d="M-14,-22.4 L14,-23.4" fill="none" stroke="#fff" stroke-width="1.2" stroke-dasharray="6 2.5"/>
<path d="M-14,-19.2 L14,-20.2" fill="none" stroke="#fff" stroke-width="1.2" stroke-dasharray="6 2.5"/>
<path d="M-14,-16.0 L14,-17.0" fill="none" stroke="#fff" stroke-width="1.2" stroke-dasharray="6 2.5"/>
<path d="M-14,-12.8 L14,-13.8" fill="none" stroke="#fff" stroke-width="1.2" stroke-dasharray="6 2.5"/>
<path d="M-14,-9.6 L14,-10.6" fill="none" stroke="#fff" stroke-width="1.2" stroke-dasharray="6 2.5"/>
<path d="M-14,-6.4 L14,-7.4" fill="none" stroke="#fff" stroke-width="1.2" stroke-dasharray="6 2.5"/>
<path d="M-14,-3.2 L14,-4.2" fill="none" stroke="#fff" stroke-width="1.2" stroke-dasharray="6 2.5"/>
<path d="M-14,0.0 L14,-1.0" fill="none" stroke="#fff" stroke-width="1.2" stroke-dasharray="6 2.5"/>
<path d="M-14,3.2 L14,2.2" fill="none" stroke="#fff" stroke-width="1.2" stroke-dasharray="6 2.5"/>
<path d="M-14,6.4 L14,5.4" fill="none" stroke="#fff" stroke-width="1.2" stroke-dasharray="6 2.5"/>
<path d="M-14,9.6 L14,8.6" fill="none" stroke="#fff" stroke-width="1.2" stroke-dasharray="6 2.5"/>
<path d="M-14,12.8 L14,11.8" fill="none" stroke="#fff" stroke-width="1.2" stroke-dasharray="6 2.5"/>
<path d="M-14,16.0 L14,15.0" fill="none" stroke="#fff" stroke-width="1.2" stroke-dasharray="6 2.5"/>
<path d="M-14,19.2 L14,18.2" fill="none" stroke="#fff" stroke-width="1.2" stroke-dasharray="6 2.5"/>
<path d="M-14,22.4 L14,21.4" fill="none" stroke="#fff" stroke-width="1.2" stroke-dasharray="6 2.5"/>
<path d="M-14,25.6 L14,24.6" fill="none" stroke="#fff" stroke-width="1.2" stroke-dasharray="6 2.5"/>
<path d="M-14,28.8 L14,27.8" fill="none" stroke="#fff" stroke-width="1.2" stroke-dasharray="6 2.5"/>
</g>
<ellipse cx="8" cy="2" rx="10.1" ry="16.5" fill="#fff" stroke="none" stroke-width="0" />
<path d="M8,-18.5 A11.3,18.5 0 0 1 8,22.5" fill="none" stroke="#000" stroke-width="1.1" />
</g>
<g transform="translate(708.9 1039) rotate(-30)">
<path d="M0,-34.5 L27,-34.5 A21,34.5 0 0 1 27,34.5 L0,34.5 A21,34.5 0 0 1 0,-34.5Z" fill="#fff" stroke="#000" stroke-width="2" />
<ellipse cx="7" cy="0" rx="21" ry="34.5" fill="none" stroke="#000" stroke-width="1.3" />
<ellipse cx="0" cy="0" rx="21" ry="34.5" fill="#fff" stroke="#000" stroke-width="2" />
<ellipse cx="0" cy="0" rx="18.6" ry="30.5" fill="none" stroke="#000" stroke-width="1.3" />
<ellipse cx="0" cy="0" rx="16.8" ry="27.5" fill="#1a1a1a" stroke="#000" stroke-width="1.6" />
<clipPath id="nb708"><ellipse cx="0" cy="0" rx="15.6" ry="25.5"/></clipPath>
<g clip-path="url(#nb708)">
<path d="M-14,-28.8 L14,-29.8" fill="none" stroke="#fff" stroke-width="1.2" stroke-dasharray="6 2.5"/>
<path d="M-14,-25.6 L14,-26.6" fill="none" stroke="#fff" stroke-width="1.2" stroke-dasharray="6 2.5"/>
<path d="M-14,-22.4 L14,-23.4" fill="none" stroke="#fff" stroke-width="1.2" stroke-dasharray="6 2.5"/>
<path d="M-14,-19.2 L14,-20.2" fill="none" stroke="#fff" stroke-width="1.2" stroke-dasharray="6 2.5"/>
<path d="M-14,-16.0 L14,-17.0" fill="none" stroke="#fff" stroke-width="1.2" stroke-dasharray="6 2.5"/>
<path d="M-14,-12.8 L14,-13.8" fill="none" stroke="#fff" stroke-width="1.2" stroke-dasharray="6 2.5"/>
<path d="M-14,-9.6 L14,-10.6" fill="none" stroke="#fff" stroke-width="1.2" stroke-dasharray="6 2.5"/>
<path d="M-14,-6.4 L14,-7.4" fill="none" stroke="#fff" stroke-width="1.2" stroke-dasharray="6 2.5"/>
<path d="M-14,-3.2 L14,-4.2" fill="none" stroke="#fff" stroke-width="1.2" stroke-dasharray="6 2.5"/>
<path d="M-14,0.0 L14,-1.0" fill="none" stroke="#fff" stroke-width="1.2" stroke-dasharray="6 2.5"/>
<path d="M-14,3.2 L14,2.2" fill="none" stroke="#fff" stroke-width="1.2" stroke-dasharray="6 2.5"/>
<path d="M-14,6.4 L14,5.4" fill="none" stroke="#fff" stroke-width="1.2" stroke-dasharray="6 2.5"/>
<path d="M-14,9.6 L14,8.6" fill="none" stroke="#fff" stroke-width="1.2" stroke-dasharray="6 2.5"/>
<path d="M-14,12.8 L14,11.8" fill="none" stroke="#fff" stroke-width="1.2" stroke-dasharray="6 2.5"/>
<path d="M-14,16.0 L14,15.0" fill="none" stroke="#fff" stroke-width="1.2" stroke-dasharray="6 2.5"/>
<path d="M-14,19.2 L14,18.2" fill="none" stroke="#fff" stroke-width="1.2" stroke-dasharray="6 2.5"/>
<path d="M-14,22.4 L14,21.4" fill="none" stroke="#fff" stroke-width="1.2" stroke-dasharray="6 2.5"/>
<path d="M-14,25.6 L14,24.6" fill="none" stroke="#fff" stroke-width="1.2" stroke-dasharray="6 2.5"/>
<path d="M-14,28.8 L14,27.8" fill="none" stroke="#fff" stroke-width="1.2" stroke-dasharray="6 2.5"/>
</g>
<ellipse cx="8" cy="2" rx="10.1" ry="16.5" fill="#fff" stroke="none" stroke-width="0" />
<path d="M8,-18.5 A11.3,18.5 0 0 1 8,22.5" fill="none" stroke="#000" stroke-width="1.1" />
</g>
<g transform="translate(850.1 958.1) rotate(-30)">
<ellipse cx="10" cy="0" rx="31.1" ry="51" fill="#fff" stroke="#000" stroke-width="2" />
<ellipse cx="0" cy="0" rx="31.1" ry="51" fill="#fff" stroke="#000" stroke-width="2" />
<ellipse cx="0" cy="0" rx="26.8" ry="44" fill="none" stroke="#000" stroke-width="1.8" />
<path d="M9,-44 A26.8,44 0 0 0 9,44" fill="none" stroke="#000" stroke-width="1.3" />
</g>
<g transform="translate(647.1 1072) rotate(-30)">
<ellipse cx="10" cy="0" rx="31.1" ry="51" fill="#fff" stroke="#000" stroke-width="2" />
<ellipse cx="0" cy="0" rx="31.1" ry="51" fill="#fff" stroke="#000" stroke-width="2" />
<ellipse cx="0" cy="0" rx="26.8" ry="44" fill="none" stroke="#000" stroke-width="1.8" />
<path d="M9,-44 A26.8,44 0 0 0 9,44" fill="none" stroke="#000" stroke-width="1.3" />
</g>
<g transform="translate(531 859.7) rotate(-29.8)">
<path d="M215,-16.7 L278,-16.7 A10.2,16.7 0 0 1 278,16.7 L215,16.7 A10.2,16.7 0 0 1 215,-16.7Z" fill="#fff" stroke="#000" stroke-width="2" />
<path d="M215,-16.7 A10.2,16.7 0 0 1 215,16.7" fill="none" stroke="#000" stroke-width="1.4" />
<path d="M235,-8 L270,-8" fill="none" stroke="#000" stroke-width="1.5" />
<path d="M235,-3 L270,-3" fill="none" stroke="#000" stroke-width="1.3" />
<path d="M165,-19.5 L215,-19.5 A11.9,19.5 0 0 1 215,19.5 L165,19.5 A11.9,19.5 0 0 1 165,-19.5Z" fill="#fff" stroke="#000" stroke-width="2" />
<path d="M165,-19.5 A11.9,19.5 0 0 1 165,19.5" fill="none" stroke="#000" stroke-width="1.4" />
<path d="M218,-17.5 A10.7,17.5 0 0 1 218,17.5" fill="none" stroke="#000" stroke-width="1.2" />
<path d="M110,-29.5 L165,-29.5 A18,29.5 0 0 1 165,29.5 L110,29.5 A18,29.5 0 0 1 110,-29.5Z" fill="#fff" stroke="#000" stroke-width="2" />
<path d="M110,-29.5 A18,29.5 0 0 1 110,29.5" fill="none" stroke="#000" stroke-width="1.4" />
<ellipse cx="113" cy="0" rx="17.1" ry="28" fill="none" stroke="#000" stroke-width="1.2" />
<path d="M0,-17.5 L110,-17.5 A10.7,17.5 0 0 1 110,17.5 L0,17.5 A10.7,17.5 0 0 1 0,-17.5Z" fill="#fff" stroke="#000" stroke-width="2" />
<path d="M0,-17.5 A10.7,17.5 0 0 1 0,17.5" fill="none" stroke="#000" stroke-width="1.4" />
<path d="M10.7,-10.8 L43.0,-10.8 L51.0,-8.8" fill="none" stroke="#000" stroke-width="1.3" />
<path d="M10.7,-6.8 L43.0,-6.8 L51.0,-8.8" fill="none" stroke="#000" stroke-width="1.3" />
<path d="M10.7,0.0 L43.0,0.0 L51.0,2.0" fill="none" stroke="#000" stroke-width="1.3" />
<path d="M10.7,4.0 L43.0,4.0 L51.0,2.0" fill="none" stroke="#000" stroke-width="1.3" />
<path d="M10.7,10.1 L43.0,10.1 L51.0,12.1" fill="none" stroke="#000" stroke-width="1.3" />
<path d="M10.7,14.1 L43.0,14.1 L51.0,12.1" fill="none" stroke="#000" stroke-width="1.3" />
<path d="M20.7,-14.9 L20.7,-10.8" fill="none" stroke="#000" stroke-width="1.1" />
<ellipse cx="0" cy="0" rx="8.5" ry="14" fill="none" stroke="#000" stroke-width="1.1" />
</g>
<g transform="translate(750.7 674.3) rotate(-30)">
<rect x="-19" y="-5" width="38" height="10" rx="5" fill="#fff" stroke="#000" stroke-width="1.8"/>
<path d="M-15,5 L17,5" fill="none" stroke="#000" stroke-width="1.2" />
</g>
<g transform="translate(854.7 826.2) rotate(-30)">
<ellipse cx="3" cy="0" rx="35.4" ry="58" fill="#fff" stroke="#000" stroke-width="2" />
<path d="M0,-58 A35.4,58 0 1 1 0,58 A35.4,58 0 1 1 0,-58Z M0,-19.4 A11.8,19.4 0 1 0 0,19.4 A11.8,19.4 0 1 0 0,-19.4Z" fill="#fff" stroke="#000" stroke-width="2" fill-rule="evenodd"/>
<path d="M3,-19.4 A11.8,19.4 0 0 0 3,19.4" fill="none" stroke="#000" stroke-width="1.2" />
</g>
<g transform="translate(914.7 791.5) rotate(-30)">
<ellipse cx="5" cy="0" rx="18.3" ry="30" fill="#fff" stroke="#000" stroke-width="2" />
<path d="M0,-30 A18.3,30 0 1 1 0,30 A18.3,30 0 1 1 0,-30Z M0,-18 A11.0,18 0 1 0 0,18 A11.0,18 0 1 0 0,-18Z" fill="#fff" stroke="#000" stroke-width="2" fill-rule="evenodd"/>
<path d="M5,-18 A11.0,18 0 0 0 5,18" fill="none" stroke="#000" stroke-width="1.2" />
</g>
<g transform="translate(968.8 760.3) rotate(-30)">
<path d="M0,-52.5 L21,-52.5 A32,52.5 0 0 1 21,52.5 L0,52.5 A32,52.5 0 0 1 0,-52.5Z" fill="#fff" stroke="#000" stroke-width="2" />
<ellipse cx="0" cy="0" rx="32" ry="52.5" fill="#fff" stroke="#000" stroke-width="2" />
<ellipse cx="4" cy="0" rx="25.6" ry="42" fill="none" stroke="#000" stroke-width="1.2" />
<ellipse cx="-10.7" cy="-27" rx="6.6" ry="8.4" fill="#fff" stroke="#000" stroke-width="1.3" />
<ellipse cx="0.1" cy="-35.6" rx="6.6" ry="8.4" fill="#fff" stroke="#000" stroke-width="1.3" />
<ellipse cx="12" cy="-33.8" rx="6.6" ry="8.4" fill="#fff" stroke="#000" stroke-width="1.3" />
<ellipse cx="17.7" cy="28.4" rx="6.6" ry="8.4" fill="#fff" stroke="#000" stroke-width="1.3" />
<ellipse cx="6.7" cy="36" rx="6.6" ry="8.4" fill="#fff" stroke="#000" stroke-width="1.3" />
<ellipse cx="-5.2" cy="32.9" rx="6.6" ry="8.4" fill="#fff" stroke="#000" stroke-width="1.3" />
<path d="M0,-52.5 A32.0,52.5 0 1 1 0,52.5 A32.0,52.5 0 1 1 0,-52.5Z M0,-42.0 A25.6,42.0 0 1 0 0,42.0 A25.6,42.0 0 1 0 0,-42.0Z" fill="#fff" stroke="#000" stroke-width="1.6" fill-rule="evenodd"/>
<ellipse cx="0" cy="0" rx="28.8" ry="47.2" fill="none" stroke="#000" stroke-width="1.0" />
<ellipse cx="3" cy="0" rx="18.6" ry="30.4" fill="#fff" stroke="#000" stroke-width="1.8" />
<ellipse cx="0" cy="0" rx="18.6" ry="30.4" fill="#fff" stroke="#000" stroke-width="1.8" />
<ellipse cx="0" cy="0" rx="16.7" ry="27.4" fill="none" stroke="#000" stroke-width="1.2" />
<ellipse cx="0" cy="0" rx="11.6" ry="19" fill="#fff" stroke="#000" stroke-width="2" />
<path d="M12.6,-19 A11.6,19 0 0 0 12.6,19" fill="none" stroke="#000" stroke-width="1.4" />
</g>
<path d="M1019,553 L1033,538 L1112,486 L1201,476 L1210,496 L1226,492 L1309,590 L1290,610 L1323.6,624.8 L1326,739 L1229.4,783.6 L1198.5,803.5 L1135.6,806.8 L1125.7,790.2 L1115.8,793.5 L1105.9,790.2 L1089.3,762 L1054.6,725.7 L1036.4,699.3 L1033,689.3 L1038,671 L1017.4,661.2 L1015,600Z" fill="#fff" stroke="#000" stroke-width="2.0" />
<path d="M1033,538 L1045,546 L1132,497 L1210,496" fill="none" stroke="#000" stroke-width="1.5" />
<ellipse cx="1117" cy="506" rx="68" ry="17" transform="rotate(-24 1117 506)" fill="#fff" stroke="#000" stroke-width="1.8" />
<ellipse cx="1122" cy="510" rx="55" ry="11" transform="rotate(-24 1122 510)" fill="none" stroke="#000" stroke-width="1.3" />
<ellipse cx="1146" cy="522" rx="7.5" ry="4.5" fill="none" stroke="#000" stroke-width="1.6" />
<ellipse cx="1193" cy="495" rx="7.5" ry="4.5" fill="none" stroke="#000" stroke-width="1.6" />
<ellipse cx="1166" cy="504" rx="5" ry="2.5" fill="none" stroke="#000" stroke-width="1.2" />
<ellipse cx="1125" cy="488" rx="6" ry="2.5" transform="rotate(-20 1125 488)" fill="none" stroke="#000" stroke-width="1.3" />
<ellipse cx="1047" cy="533" rx="6" ry="2.5" transform="rotate(-25 1047 533)" fill="none" stroke="#000" stroke-width="1.3" />
<ellipse cx="1111" cy="530" rx="6" ry="2.5" transform="rotate(-25 1111 530)" fill="none" stroke="#000" stroke-width="1.3" />
<path d="M1033,538 L1040,580 L1046,595" fill="none" stroke="#000" stroke-width="1.4" />
<path d="M1020,556 L1034,570 L1030,640 L1036,690" fill="none" stroke="#000" stroke-width="1.3" />
<path d="M1036,545 L1040,553 L1056,552 L1058,545" fill="none" stroke="#000" stroke-width="1.3" />
<path d="M1058,552 L1062,568 L1088,566 L1110,558" fill="none" stroke="#000" stroke-width="1.3" />
<path d="M1052,556 L1068,590 L1075,602" fill="none" stroke="#000" stroke-width="1.3" />
<path d="M1090,543 L1110,558 L1122,585" fill="none" stroke="#000" stroke-width="1.3" />
<path d="M1108,535 L1122,560 L1140,590" fill="none" stroke="#000" stroke-width="1.3" />
<path d="M1025,580 L1028,620" fill="none" stroke="#000" stroke-width="1.2" />
<path d="M1040,703 L1060,722 L1095,758 L1112,784" fill="none" stroke="#000" stroke-width="1.2" />
<path d="M1040,660 L1045,640" fill="none" stroke="#000" stroke-width="1.2" />
<path d="M1030,585 C1020,625 1026,675 1044,705" fill="none" stroke="#000" stroke-width="1.4" />
<path d="M1036,583 C1027,625 1032,672 1050,702" fill="none" stroke="#000" stroke-width="1.2" />
<path d="M1043,580 C1034,622 1039,668 1056,698" fill="none" stroke="#000" stroke-width="1.2" />
<path d="M1049,578 C1041,620 1045,664 1062,694" fill="none" stroke="#000" stroke-width="1.1" />
<path d="M1090,575 C1120,580 1150,600 1170,625" fill="none" stroke="#000" stroke-width="1.6" />
<path d="M1090,582 C1118,587 1146,606 1165,630" fill="none" stroke="#000" stroke-width="1.3" />
<g transform="translate(1118 677) rotate(-30)">
<ellipse cx="9" cy="0" rx="63.7" ry="91" fill="#fff" stroke="#000" stroke-width="1.6" />
<ellipse cx="0" cy="0" rx="63.7" ry="91" fill="#fff" stroke="#000" stroke-width="2.0" />
<ellipse cx="-1" cy="0" rx="59.5" ry="85" fill="none" stroke="#000" stroke-width="1.2" />
<ellipse cx="0" cy="0" rx="47.6" ry="68" fill="#fff" stroke="#000" stroke-width="1.3" />
<ellipse cx="3" cy="0" rx="44.8" ry="64" fill="#fff" stroke="#000" stroke-width="1.9" />
<ellipse cx="53.3" cy="11.5" rx="3" ry="4.6" fill="none" stroke="#000" stroke-width="1.4" />
<ellipse cx="38.4" cy="54.1" rx="3" ry="4.6" fill="none" stroke="#000" stroke-width="1.4" />
<ellipse cx="8.8" cy="76" rx="3" ry="4.6" fill="none" stroke="#000" stroke-width="1.4" />
<ellipse cx="-24.1" cy="68.9" rx="3" ry="4.6" fill="none" stroke="#000" stroke-width="1.4" />
<ellipse cx="-47.9" cy="35.4" rx="3" ry="4.6" fill="none" stroke="#000" stroke-width="1.4" />
<ellipse cx="-53.3" cy="-11.5" rx="3" ry="4.6" fill="none" stroke="#000" stroke-width="1.4" />
<ellipse cx="-38.4" cy="-54.1" rx="3" ry="4.6" fill="none" stroke="#000" stroke-width="1.4" />
<ellipse cx="-8.8" cy="-76" rx="3" ry="4.6" fill="none" stroke="#000" stroke-width="1.4" />
<ellipse cx="24.1" cy="-68.9" rx="3" ry="4.6" fill="none" stroke="#000" stroke-width="1.4" />
<ellipse cx="47.9" cy="-35.4" rx="3" ry="4.6" fill="none" stroke="#000" stroke-width="1.4" />
</g>
<path d="M1094,662 Q1125,652 1158,684" fill="none" stroke="#000" stroke-width="2.2" />
<path d="M1092,656 Q1125,644 1156,676" fill="none" stroke="#000" stroke-width="1.2" />
<path d="M1093,655 L1112,620 L1124,652 L1134,637" fill="none" stroke="#000" stroke-width="1.3" />
<path d="M1090,640 Q1110,628 1135,622" fill="none" stroke="#000" stroke-width="1.2" />
<path d="M1218,494 Q1226,488 1234,497 L1301,580 Q1310,591 1299,597 L1221,638 Q1210,645 1202,634 L1143,556 Q1134,545 1146,539Z" fill="#fff" stroke="#000" stroke-width="2.0" />
<path d="M1146,552 L1220,510 L1290,590 L1218,630Z" fill="none" stroke="#000" stroke-width="1.1" />
<ellipse cx="1224" cy="569" rx="68" ry="48" transform="rotate(35 1224 569)" fill="#fff" stroke="#000" stroke-width="1.9" />
<ellipse cx="1226" cy="573" rx="61" ry="41" transform="rotate(35 1226 573)" fill="#fff" stroke="#000" stroke-width="1.4" />
<ellipse cx="1228" cy="576" rx="56" ry="36" transform="rotate(37 1228 576)" fill="none" stroke="#000" stroke-width="1.1" />
<path d="M1180,534 L1190,560" fill="none" stroke="#000" stroke-width="1.4" />
<path d="M1188,532 L1205,571" fill="none" stroke="#000" stroke-width="1.4" />
<path d="M1190,528 Q1206,522 1212,530 Q1208,537 1196,538" fill="none" stroke="#000" stroke-width="1.3" />
<path d="M1167,574 Q1186,566 1208,571 Q1230,585 1243,624" fill="none" stroke="#000" stroke-width="1.6" />
<path d="M1172,584 Q1190,576 1210,579 Q1228,592 1238,625" fill="none" stroke="#000" stroke-width="1.3" />
<path d="M1190,580 Q1200,600 1212,622" fill="none" stroke="#000" stroke-width="1.2" />
<path d="M1211,595 Q1218,605 1222,624" fill="none" stroke="#000" stroke-width="1.2" />
<path d="M1213,596 Q1220,606 1224,624" fill="none" stroke="#000" stroke-width="1.2" />
<path d="M1215,597 Q1222,607 1226,624" fill="none" stroke="#000" stroke-width="1.2" />
<path d="M1217,598 Q1224,608 1228,624" fill="none" stroke="#000" stroke-width="1.2" />
<ellipse cx="1227.4" cy="501.8" rx="6" ry="6" fill="#fff" stroke="#000" stroke-width="1.7" />
<ellipse cx="1227.4" cy="501.8" rx="3.6" ry="3.6" fill="none" stroke="#000" stroke-width="1.2" />
<ellipse cx="1298.4" cy="589.5" rx="6" ry="6" fill="#fff" stroke="#000" stroke-width="1.7" />
<ellipse cx="1298.4" cy="589.5" rx="3.6" ry="3.6" fill="none" stroke="#000" stroke-width="1.2" />
<ellipse cx="1218.7" cy="634.5" rx="6" ry="6" fill="#fff" stroke="#000" stroke-width="1.7" />
<ellipse cx="1218.7" cy="634.5" rx="3.6" ry="3.6" fill="none" stroke="#000" stroke-width="1.2" />
<ellipse cx="1148.4" cy="547.6" rx="6" ry="6" fill="#fff" stroke="#000" stroke-width="1.7" />
<ellipse cx="1148.4" cy="547.6" rx="3.6" ry="3.6" fill="none" stroke="#000" stroke-width="1.2" />
<path d="M1231,670 L1318,624 Q1324,621 1324,630 L1326,732 Q1326,740 1320,742 L1236,783 Q1229,787 1229,778 L1226,680 Q1226,673 1231,670Z" fill="#fff" stroke="#000" stroke-width="2.0" />
<path d="M1205,678 L1228.6,672.8" fill="none" stroke="#000" stroke-width="1.3" />
<path d="M1212,690 L1226,690" fill="none" stroke="#000" stroke-width="1.2" />
<path d="M1255.8,627.4 L1270,624.2 L1273.2,643.2" fill="none" stroke="#000" stroke-width="1.3" />
<path d="M1136,556 L1150,578 L1206,648" fill="none" stroke="#000" stroke-width="1.3" />
<path d="M1212,690 L1214,780" fill="none" stroke="#000" stroke-width="1.3" />
<path d="M1218,683 L1220,770" fill="none" stroke="#000" stroke-width="1.2" />
<ellipse cx="1274" cy="699" rx="40" ry="60" transform="rotate(25 1274 699)" fill="#fff" stroke="#000" stroke-width="1.9" />
<ellipse cx="1277" cy="697" rx="34" ry="54" transform="rotate(25 1277 697)" fill="none" stroke="#000" stroke-width="1.3" />
<path d="M1245,682 L1262,740" fill="none" stroke="#000" stroke-width="1.3" />
<path d="M1252,678 L1268,735" fill="none" stroke="#000" stroke-width="1.3" />
<path d="M1262,740 L1280,717" fill="none" stroke="#000" stroke-width="1.3" />
<path d="M1232,745 C1250,735 1270,730 1290,735" fill="none" stroke="#000" stroke-width="1.5" />
<ellipse cx="1236" cy="679.4" rx="5.5" ry="6.5" transform="rotate(20 1236 679.4)" fill="#fff" stroke="#000" stroke-width="1.7" />
<ellipse cx="1236" cy="679.4" rx="3.2" ry="4" transform="rotate(20 1236 679.4)" fill="none" stroke="#000" stroke-width="1.2" />
<ellipse cx="1315.4" cy="633" rx="5.5" ry="6.5" transform="rotate(20 1315.4 633)" fill="#fff" stroke="#000" stroke-width="1.7" />
<ellipse cx="1315.4" cy="633" rx="3.2" ry="4" transform="rotate(20 1315.4 633)" fill="none" stroke="#000" stroke-width="1.2" />
<ellipse cx="1316.2" cy="727.3" rx="5.5" ry="6.5" transform="rotate(20 1316.2 727.3)" fill="#fff" stroke="#000" stroke-width="1.7" />
<ellipse cx="1316.2" cy="727.3" rx="3.2" ry="4" transform="rotate(20 1316.2 727.3)" fill="none" stroke="#000" stroke-width="1.2" />
<ellipse cx="1236" cy="772.8" rx="5.5" ry="6.5" transform="rotate(20 1236 772.8)" fill="#fff" stroke="#000" stroke-width="1.7" />
<ellipse cx="1236" cy="772.8" rx="3.2" ry="4" transform="rotate(20 1236 772.8)" fill="none" stroke="#000" stroke-width="1.2" />
<path d="M1229.4,783.6 L1187,807" fill="none" stroke="#000" stroke-width="1.5" />
<path d="M1139,808 L1135,790 L1180,775 L1200,790 L1187,807" fill="none" stroke="#000" stroke-width="1.3" />
<path d="M1160,780 L1162,808" fill="none" stroke="#000" stroke-width="1.2" />
<g transform="translate(1034.5 633.2) rotate(-30)">
<path d="M0,-8.5 L14,-8.5 A5.2,8.5 0 0 1 14,8.5 L0,8.5 A5.2,8.5 0 0 1 0,-8.5Z" fill="#fff" stroke="#000" stroke-width="1.7" />
<path d="M0,-8.5 A5.2,8.5 0 0 1 0,8.5" fill="none" stroke="#000" stroke-width="1.19" />
<ellipse cx="0" cy="0" rx="2.4" ry="4" fill="none" stroke="#000" stroke-width="1.3" />
</g>
<g transform="translate(1049.7 680) rotate(-30)">
<path d="M0,-8.5 L14,-8.5 A5.2,8.5 0 0 1 14,8.5 L0,8.5 A5.2,8.5 0 0 1 0,-8.5Z" fill="#fff" stroke="#000" stroke-width="1.7" />
<path d="M0,-8.5 A5.2,8.5 0 0 1 0,8.5" fill="none" stroke="#000" stroke-width="1.19" />
<ellipse cx="0" cy="0" rx="2.4" ry="4" fill="none" stroke="#000" stroke-width="1.3" />
</g>
<g transform="translate(1073.1 732.5) rotate(-30)">
<path d="M0,-8.5 L14,-8.5 A5.2,8.5 0 0 1 14,8.5 L0,8.5 A5.2,8.5 0 0 1 0,-8.5Z" fill="#fff" stroke="#000" stroke-width="1.7" />
<path d="M0,-8.5 A5.2,8.5 0 0 1 0,8.5" fill="none" stroke="#000" stroke-width="1.19" />
<ellipse cx="0" cy="0" rx="2.4" ry="4" fill="none" stroke="#000" stroke-width="1.3" />
</g>
<g transform="translate(1117.2 764.3) rotate(-30)">
<path d="M0,-8.5 L14,-8.5 A5.2,8.5 0 0 1 14,8.5 L0,8.5 A5.2,8.5 0 0 1 0,-8.5Z" fill="#fff" stroke="#000" stroke-width="1.7" />
<path d="M0,-8.5 A5.2,8.5 0 0 1 0,8.5" fill="none" stroke="#000" stroke-width="1.19" />
<ellipse cx="0" cy="0" rx="2.4" ry="4" fill="none" stroke="#000" stroke-width="1.3" />
</g>
<g transform="translate(1150 775.6) rotate(-30)">
<path d="M0,-8.5 L14,-8.5 A5.2,8.5 0 0 1 14,8.5 L0,8.5 A5.2,8.5 0 0 1 0,-8.5Z" fill="#fff" stroke="#000" stroke-width="1.7" />
<path d="M0,-8.5 A5.2,8.5 0 0 1 0,8.5" fill="none" stroke="#000" stroke-width="1.19" />
<ellipse cx="0" cy="0" rx="2.4" ry="4" fill="none" stroke="#000" stroke-width="1.3" />
</g>
<g transform="translate(1185.6 758.7) rotate(-30)">
<path d="M0,-8.5 L14,-8.5 A5.2,8.5 0 0 1 14,8.5 L0,8.5 A5.2,8.5 0 0 1 0,-8.5Z" fill="#fff" stroke="#000" stroke-width="1.7" />
<path d="M0,-8.5 A5.2,8.5 0 0 1 0,8.5" fill="none" stroke="#000" stroke-width="1.19" />
<ellipse cx="0" cy="0" rx="2.4" ry="4" fill="none" stroke="#000" stroke-width="1.3" />
</g>
<g transform="translate(1187.4 721.2) rotate(-30)">
<path d="M0,-8.5 L14,-8.5 A5.2,8.5 0 0 1 14,8.5 L0,8.5 A5.2,8.5 0 0 1 0,-8.5Z" fill="#fff" stroke="#000" stroke-width="1.7" />
<path d="M0,-8.5 A5.2,8.5 0 0 1 0,8.5" fill="none" stroke="#000" stroke-width="1.19" />
<ellipse cx="0" cy="0" rx="2.4" ry="4" fill="none" stroke="#000" stroke-width="1.3" />
</g>
<g transform="translate(1150 622.8) rotate(-30)">
<path d="M0,-8.5 L14,-8.5 A5.2,8.5 0 0 1 14,8.5 L0,8.5 A5.2,8.5 0 0 1 0,-8.5Z" fill="#fff" stroke="#000" stroke-width="1.7" />
<path d="M0,-8.5 A5.2,8.5 0 0 1 0,8.5" fill="none" stroke="#000" stroke-width="1.19" />
<ellipse cx="0" cy="0" rx="2.4" ry="4" fill="none" stroke="#000" stroke-width="1.3" />
</g>
<g transform="translate(1073 579) rotate(-30)">
<path d="M0,-8.5 L14,-8.5 A5.2,8.5 0 0 1 14,8.5 L0,8.5 A5.2,8.5 0 0 1 0,-8.5Z" fill="#fff" stroke="#000" stroke-width="1.7" />
<path d="M0,-8.5 A5.2,8.5 0 0 1 0,8.5" fill="none" stroke="#000" stroke-width="1.19" />
<ellipse cx="0" cy="0" rx="2.4" ry="4" fill="none" stroke="#000" stroke-width="1.3" />
</g>
<g transform="translate(1050 588.6) rotate(-30)">
<path d="M0,-8.5 L14,-8.5 A5.2,8.5 0 0 1 14,8.5 L0,8.5 A5.2,8.5 0 0 1 0,-8.5Z" fill="#fff" stroke="#000" stroke-width="1.7" />
<path d="M0,-8.5 A5.2,8.5 0 0 1 0,8.5" fill="none" stroke="#000" stroke-width="1.19" />
<ellipse cx="0" cy="0" rx="2.4" ry="4" fill="none" stroke="#000" stroke-width="1.3" />
</g>
<ellipse cx="1171.2" cy="93.3" rx="44" ry="25" fill="none" stroke="#000" stroke-width="2.0" />
<ellipse cx="1171.2" cy="93.3" rx="41.5" ry="23" fill="none" stroke="#000" stroke-width="1.3" />
<path d="M1120.2,42.7 A51.4,29.3 0 0 1 1223.0,42.7 L1223.0,59.7 A51.4,29.3 0 0 1 1120.2,59.7Z" fill="#fff" stroke="#000" stroke-width="2.2" />
<path d="M1120.2,42.7 A51.4,29.3 0 0 0 1223.0,42.7" fill="none" stroke="#000" stroke-width="1.7600000000000002" />
<ellipse cx="1171" cy="40" rx="35" ry="19.7" fill="none" stroke="#000" stroke-width="1.6" />
<path d="M1165.4,152.0 A5.8,3.3 0 0 1 1177.0,152.0 L1177.0,175.0 A5.8,3.3 0 0 1 1165.4,175.0Z" fill="#fff" stroke="#000" stroke-width="1.8" />
<path d="M1162.2,136.0 A9.0,5.1 0 0 1 1180.2,136.0 L1180.2,148.0 A9.0,5.1 0 0 1 1162.2,148.0Z" fill="#fff" stroke="#000" stroke-width="1.8" />
<path d="M1162.2,136.0 A9.0,5.1 0 0 0 1180.2,136.0" fill="none" stroke="#000" stroke-width="1.4400000000000002" />
<ellipse cx="1171.2" cy="135.5" rx="4" ry="2.3" fill="none" stroke="#000" stroke-width="1.3" />
<path d="M1159.9,197.0 A11.3,6.4 0 0 1 1182.5,197.0 L1182.5,200.0 A11.3,6.4 0 0 1 1159.9,200.0Z" fill="#fff" stroke="#000" stroke-width="1.8" />
<path d="M1159.9,197.0 A11.3,6.4 0 0 0 1182.5,197.0" fill="none" stroke="#000" stroke-width="1.4400000000000002" />
<ellipse cx="1171.2" cy="197" rx="4.2" ry="2.4" fill="none" stroke="#000" stroke-width="1.62" />
<path d="M1162.2,240.0 A9.0,5.1 0 0 1 1180.2,240.0 L1180.2,252.0 A9.0,5.1 0 0 1 1162.2,252.0Z" fill="#fff" stroke="#000" stroke-width="1.8" />
<path d="M1162.2,245 A9,5 0 0 0 1180.2,245" fill="none" stroke="#000" stroke-width="1.2" />
<path d="M1157.7,228.0 A13.5,7.7 0 0 1 1184.7,228.0 L1184.7,236.0 A13.5,7.7 0 0 1 1157.7,236.0Z" fill="#fff" stroke="#000" stroke-width="1.8" />
<path d="M1157.7,228.0 A13.5,7.7 0 0 0 1184.7,228.0" fill="none" stroke="#000" stroke-width="1.4400000000000002" />
<ellipse cx="1171.2" cy="228" rx="6" ry="3.4" fill="none" stroke="#000" stroke-width="1.4" />
<ellipse cx="1171.2" cy="287.6" rx="11.3" ry="6.8" fill="none" stroke="#000" stroke-width="2" />
<ellipse cx="1171.2" cy="287.6" rx="7.5" ry="4.2" fill="none" stroke="#000" stroke-width="1.4" />
<path d="M1185.0,386.0 A12.0,6.8 0 0 1 1209.0,386.0 L1209.0,398.0 A12.0,6.8 0 0 1 1185.0,398.0Z" fill="#fff" stroke="#000" stroke-width="1.8" />
<path d="M1166.0,396.0 A10.0,5.7 0 0 1 1186.0,396.0 L1186.0,408.0 A10.0,5.7 0 0 1 1166.0,408.0Z" fill="#fff" stroke="#000" stroke-width="1.6" />
<path d="M1139.0,390.0 A8.5,4.8 0 0 1 1156.0,390.0 L1156.0,416.0 A8.5,4.8 0 0 1 1139.0,416.0Z" fill="#fff" stroke="#000" stroke-width="1.8" />
<path d="M1134.0,414.0 A14.0,8.0 0 0 1 1162.0,414.0 L1162.0,422.0 A14.0,8.0 0 0 1 1134.0,422.0Z" fill="#fff" stroke="#000" stroke-width="1.8" />
<path d="M1134.0,414.0 A14.0,8.0 0 0 0 1162.0,414.0" fill="none" stroke="#000" stroke-width="1.4400000000000002" />
<ellipse cx="1148" cy="414" rx="8.5" ry="5" fill="#fff" stroke="#000" stroke-width="1.5" />
<path d="M1155,404 L1162,413 L1182,401" fill="none" stroke="#000" stroke-width="1.3" />
<path d="M1130.0,324.2 A41.2,23.5 0 0 1 1212.4,324.2 L1212.4,372.7 A41.2,23.5 0 0 1 1130.0,372.7Z" fill="#fff" stroke="#000" stroke-width="2.2" />
<path d="M1130.0,324.2 A41.2,23.5 0 0 0 1212.4,324.2" fill="none" stroke="#000" stroke-width="1.7600000000000002" />
<ellipse cx="1171.2" cy="324.2" rx="39" ry="21.7" fill="none" stroke="#000" stroke-width="1.2" />
<path d="M1130.0,356.2 A41.2,23.3 0 0 0 1212.4,356.2" fill="none" stroke="#000" stroke-width="2.4" />
<ellipse cx="1193.6" cy="418.7" rx="10.5" ry="6.7" fill="none" stroke="#000" stroke-width="2" />
<ellipse cx="1193.6" cy="418.7" rx="6.5" ry="4" fill="none" stroke="#000" stroke-width="1.4" />
<ellipse cx="1148.6" cy="444.6" rx="10.8" ry="7" fill="none" stroke="#000" stroke-width="2" />
<ellipse cx="1148.6" cy="444.6" rx="6.5" ry="4.2" fill="none" stroke="#000" stroke-width="1.4" />
<g transform="translate(1336 545.8) rotate(-30)">
<ellipse cx="12" cy="0" rx="15.9" ry="26" fill="#fff" stroke="#000" stroke-width="2" />
<path d="M0,-26 A15.9,26 0 1 1 0,26 A15.9,26 0 1 1 0,-26Z M0,-19 A11.6,19 0 1 0 0,19 A11.6,19 0 1 0 0,-19Z" fill="#fff" stroke="#000" stroke-width="2" fill-rule="evenodd"/>
<path d="M12,-19 A11.6,19 0 0 0 12,19" fill="none" stroke="#000" stroke-width="1.2" />
</g>
<g transform="translate(1387.7 517.9) rotate(-30)">
<ellipse cx="0" cy="0" rx="17.3" ry="28.3" fill="none" stroke="#000" stroke-width="3.4" />
<ellipse cx="0" cy="0" rx="17.3" ry="28.3" fill="none" stroke="#5a78e8" stroke-width="1.0" />
<ellipse cx="-1" cy="-26" rx="3" ry="3" fill="#fff" stroke="#000" stroke-width="1.4" />
<ellipse cx="3" cy="-27" rx="3" ry="3" fill="#fff" stroke="#000" stroke-width="1.4" />
</g>
<path d="M1360,749 L1381,737 L1419,760 Q1432,766 1437,780 Q1440,790 1434,793 L1414,804 L1396,798 L1357,768 Z" fill="#fff" stroke="#000" stroke-width="2" />
<path d="M1336.3,756.7 L1392.7,726.3 Q1397,732 1397,746 L1352,772 L1353,784 Q1346,788 1340,786 Q1333,772 1336.3,756.7 Z" fill="#fff" stroke="#000" stroke-width="2" />
<path d="M1349.8,752.6 Q1353,768 1352,784" fill="none" stroke="#000" stroke-width="1.4" />
<path d="M1340,759 L1392,731" fill="none" stroke="#000" stroke-width="1.3" />
<path d="M1384,733 Q1390,740 1390,748" fill="none" stroke="#000" stroke-width="1.3" />
<path d="M1360.3,749.6 L1404.7,777.4" fill="none" stroke="#000" stroke-width="1.6" />
<path d="M1362,753 L1405,780" fill="none" stroke="#000" stroke-width="1.1" />
<path d="M1358,769 L1400,792" fill="none" stroke="#000" stroke-width="1.4" />
<path d="M1361,776.7 L1398,799" fill="none" stroke="#000" stroke-width="1.4" />
<path d="M1357,765 L1368,758" fill="none" stroke="#000" stroke-width="1.2" />
<ellipse cx="1406.2" cy="792.4" rx="9.8" ry="13.9" transform="rotate(-30 1406.2 792.4)" fill="#fff" stroke="#000" stroke-width="2" />
<ellipse cx="1404.7" cy="790.9" rx="6.5" ry="9.5" transform="rotate(-30 1404.7 790.9)" fill="none" stroke="#000" stroke-width="1.6" />
<ellipse cx="1405" cy="791.2" rx="5.5" ry="8.3" transform="rotate(-30 1405 791.2)" fill="none" stroke="#000" stroke-width="0.9" />
<g transform="translate(1493.3 829.3) rotate(30) scale(-1 1)">
<path d="M0,-45.7 L31,-45.7 A27.9,45.7 0 0 1 31,45.7 L0,45.7 A27.9,45.7 0 0 1 0,-45.7Z" fill="#fff" stroke="#000" stroke-width="2" />
<ellipse cx="3" cy="0" rx="27.9" ry="45.7" fill="none" stroke="#000" stroke-width="1.5" />
<ellipse cx="6" cy="0" rx="27.9" ry="45.7" fill="none" stroke="#000" stroke-width="1.3" />
<ellipse cx="0" cy="0" rx="27.9" ry="45.7" fill="#fff" stroke="#000" stroke-width="2" />
<ellipse cx="0" cy="0" rx="23.2" ry="38" fill="none" stroke="#000" stroke-width="1.3" />
<ellipse cx="0" cy="0" rx="7.9" ry="13" fill="none" stroke="#000" stroke-width="1.3" />
<ellipse cx="0" cy="0" rx="5.5" ry="9" fill="none" stroke="#000" stroke-width="1.6" />
<ellipse cx="0" cy="0" rx="3" ry="5" fill="none" stroke="#000" stroke-width="1.3" />
</g>
<ellipse cx="1449.6" cy="840.5" rx="6" ry="9" transform="rotate(-30 1449.6 840.5)" fill="#fff" stroke="#000" stroke-width="1.8" />
<ellipse cx="1451" cy="841" rx="4" ry="6.5" transform="rotate(-30 1451 841)" fill="none" stroke="#000" stroke-width="1.2" />
<g transform="translate(1549.6 859.8) rotate(30)">
<path d="M2,-43 A26.2,43 0 1 1 -3,-43" fill="none" stroke="#000" stroke-width="2.2" />
<path d="M2,-40 A24.4,40 0 1 1 -3,-40" fill="none" stroke="#000" stroke-width="1.3" />
</g>
<g transform="translate(1625.6 905.6) rotate(30) scale(-1 1)">
<path d="M8,-52 L34,-52 A31.7,52 0 0 1 34,52 L8,52 A31.7,52 0 0 1 8,-52Z" fill="#fff" stroke="#000" stroke-width="2" />
<ellipse cx="12" cy="0" rx="31.7" ry="52" fill="none" stroke="#000" stroke-width="1.3" />
<path d="M0,-68 L10,-68 A41.5,68 0 0 1 10,68 L0,68 A41.5,68 0 0 1 0,-68Z" fill="#fff" stroke="#000" stroke-width="2" />
<ellipse cx="0" cy="0" rx="41.5" ry="68" fill="#fff" stroke="#000" stroke-width="2" />
<ellipse cx="0" cy="0" rx="28.7" ry="47" fill="#fff" stroke="#000" stroke-width="1.9" />
<ellipse cx="10" cy="0" rx="27.4" ry="45" fill="none" stroke="#000" stroke-width="1.3" />
<path d="M16,-40 A24.4,40 0 0 1 16,40" fill="none" stroke="#000" stroke-width="1.2" />
</g>
<ellipse cx="1612" cy="935" rx="4" ry="2.5" fill="none" stroke="#000" stroke-width="1.4" />
<g transform="translate(1678.9 936.9) rotate(30) scale(-1 1)">
<ellipse cx="4" cy="0" rx="42.1" ry="69" fill="#fff" stroke="#000" stroke-width="2" />
<ellipse cx="0" cy="0" rx="42.1" ry="69" fill="#fff" stroke="#000" stroke-width="2" />
<ellipse cx="0" cy="0" rx="37.2" ry="61" fill="none" stroke="#000" stroke-width="1.6" />
<ellipse cx="0" cy="0" rx="7.3" ry="12" fill="none" stroke="#000" stroke-width="1.8" />
<ellipse cx="0" cy="0" rx="4.9" ry="8" fill="none" stroke="#000" stroke-width="1.3" />
</g>
<g transform="translate(1733 967.7) rotate(30) scale(-1 1)">
<ellipse cx="3" cy="0" rx="23.8" ry="39" fill="#fff" stroke="#000" stroke-width="2.2" />
<ellipse cx="0" cy="0" rx="23.8" ry="39" fill="#fff" stroke="#000" stroke-width="2.2" />
<ellipse cx="0" cy="0" rx="22" ry="36" fill="none" stroke="#000" stroke-width="1.2" />
<ellipse cx="0" cy="0" rx="9.2" ry="15" fill="none" stroke="#000" stroke-width="1.5" />
<ellipse cx="0" cy="0" rx="6.7" ry="11" fill="none" stroke="#000" stroke-width="1.5" />
<ellipse cx="0" cy="0" rx="4.3" ry="7" fill="none" stroke="#000" stroke-width="1.5" />
</g>
<g transform="translate(1787.4 1000.4) rotate(30) scale(-1 1)">
<path d="M0,-7 L26,-7 A4.3,7 0 0 1 26,7 L0,7 A4.3,7 0 0 1 0,-7Z" fill="#fff" stroke="#000" stroke-width="1.8" />
</g>
<path d="M1797.7,1002.8 L1791,1013.6 L1780.7,1011.1 L1777.1,998 L1783.8,987.2 L1794.1,989.7Z" fill="#fff" stroke="#000" stroke-width="1.8" />
<ellipse cx="1420.3" cy="858.2" rx="7.7" ry="9.8" transform="rotate(-25 1420.3 858.2)" fill="none" stroke="#000" stroke-width="2" />
<ellipse cx="1420.3" cy="858.2" rx="5" ry="7" transform="rotate(-25 1420.3 858.2)" fill="none" stroke="#000" stroke-width="1.3" />
<ellipse cx="1311" cy="922.5" rx="7.5" ry="9.5" transform="rotate(-25 1311 922.5)" fill="none" stroke="#000" stroke-width="2" />
<ellipse cx="1311" cy="922.5" rx="5" ry="7" transform="rotate(-25 1311 922.5)" fill="none" stroke="#000" stroke-width="1.1" />
<g transform="translate(1340.5 904) rotate(-29)">
<path d="M0,-8.5 L62,-8.5 A5.2,8.5 0 0 1 62,8.5 L0,8.5 A5.2,8.5 0 0 1 0,-8.5Z" fill="#fff" stroke="#000" stroke-width="1.8" />
<path d="M0,-8.5 A5.2,8.5 0 0 1 0,8.5" fill="none" stroke="#000" stroke-width="1.26" />
<ellipse cx="0" cy="0" rx="3.7" ry="6" fill="none" stroke="#000" stroke-width="1.3" />
</g>
<ellipse cx="1169.5" cy="842.5" rx="10" ry="5.5" fill="none" stroke="#000" stroke-width="1.8" />
<ellipse cx="1169.5" cy="842.5" rx="5" ry="2.5" fill="none" stroke="#000" stroke-width="1.3" />
<path d="M1159.3,877.0 A11.0,6.3 0 0 1 1181.3,877.0 L1181.3,886.0 A11.0,6.3 0 0 1 1159.3,886.0Z" fill="#fff" stroke="#000" stroke-width="1.8" />
<path d="M1159.3,877.0 A11.0,6.3 0 0 0 1181.3,877.0" fill="none" stroke="#000" stroke-width="1.4400000000000002" />
<path d="M1162.8,872.0 A7.5,4.3 0 0 1 1177.8,872.0 L1177.8,880.0 A7.5,4.3 0 0 1 1162.8,880.0Z" fill="#fff" stroke="#000" stroke-width="1.6" />
<path d="M1162.8,872.0 A7.5,4.3 0 0 0 1177.8,872.0" fill="none" stroke="#000" stroke-width="1.2800000000000002" />
<path d="M929.6,1013.7 L932,1007 L958.5,992 L961,962 Q966,925 985,893 Q995,876 1004,871 Q1014,866 1022,874 L1040,912 L1038,927 L1051,946 L1063,943 L1112,971 L1120,978 L1127,994 L1135,990 L1134,973 L1155,956 Q1166,951 1173,961 L1192,1006 Q1210,1050 1216,1110 L1215,1146 L1179,1158 Q1174,1160 1170,1159 L932,1021 Z" fill="#fff" stroke="#000" stroke-width="2" />
<path d="M964,992 L965,962 Q970,927 988,897 Q997,881 1005,876 Q1013,872 1019,879 L1036,915 L1034,929 L1049,951 L1063,948 L1111,976 L1117,981 L1124,998 L1139,993 L1139,975 L1156,962 Q1165,957 1170,965 L1188,1008 Q1206,1052 1211,1112 L1210,1127" fill="none" stroke="#000" stroke-width="1.1" />
<path d="M966.9,990.8 L1204,1124.4" fill="none" stroke="#000" stroke-width="1.4" />
<path d="M934.4,1011 L1172,1146" fill="none" stroke="#000" stroke-width="1.2" />
<path d="M934.4,1022 L1175.1,1160" fill="none" stroke="#000" stroke-width="1.8" />
<ellipse cx="956" cy="1010" rx="14" ry="5.2" transform="rotate(29 956 1010)" fill="#fff" stroke="#000" stroke-width="1.7" />
<ellipse cx="957.5" cy="1010.8" rx="11" ry="3.2" transform="rotate(29 957.5 1010.8)" fill="none" stroke="#000" stroke-width="1.1" />
<ellipse cx="1030.7" cy="1048.6" rx="14" ry="5.2" transform="rotate(29 1030.7 1048.6)" fill="#fff" stroke="#000" stroke-width="1.7" />
<ellipse cx="1032.2" cy="1049.4" rx="11" ry="3.2" transform="rotate(29 1032.2 1049.4)" fill="none" stroke="#000" stroke-width="1.1" />
<ellipse cx="1110" cy="1095.5" rx="14" ry="5.2" transform="rotate(29 1110 1095.5)" fill="#fff" stroke="#000" stroke-width="1.7" />
<ellipse cx="1111.5" cy="1096.3" rx="11" ry="3.2" transform="rotate(29 1111.5 1096.3)" fill="none" stroke="#000" stroke-width="1.1" />
<ellipse cx="1177.5" cy="1138.8" rx="14" ry="5.2" transform="rotate(29 1177.5 1138.8)" fill="#fff" stroke="#000" stroke-width="1.7" />
<ellipse cx="1179" cy="1139.6" rx="11" ry="3.2" transform="rotate(29 1179 1139.6)" fill="none" stroke="#000" stroke-width="1.1" />
<path d="M981,934 Q986,928 992,932 Q1000,940 1012,945 Q1028,952 1036,968 Q1042,980 1046,995 Q1050,1008 1052,1018 Q1050,1024 1043,1022 Q1032,1017 1020,1012 Q1004,1004 996,992 Q988,980 986,965 Q983,952 980,945 Q978,938 981,934Z" fill="#fff" stroke="#000" stroke-width="1.9" />
<path d="M986,940 Q994,946 1010,951 Q1026,958 1033,972 Q1040,986 1044,1000 Q1047,1010 1048,1017" fill="none" stroke="#000" stroke-width="1.1" />
<path d="M1132,1026 Q1140,1018 1150,1018 Q1162,1020 1170,1030 Q1178,1038 1188,1046 Q1195,1052 1193,1062 Q1190,1072 1186,1080 Q1182,1094 1172,1097 Q1160,1098 1150,1090 Q1140,1082 1128,1070 Q1120,1062 1122,1050 Q1125,1040 1130,1035Z" fill="#fff" stroke="#000" stroke-width="1.9" />
<path d="M1126,1046 Q1128,1036 1136,1028 Q1146,1022 1152,1024" fill="none" stroke="#000" stroke-width="1.1" />
<ellipse cx="1012.7" cy="884.9" rx="3.5" ry="5" transform="rotate(-20 1012.7 884.9)" fill="none" stroke="#000" stroke-width="1.6" />
<ellipse cx="1086" cy="975.2" rx="3.5" ry="5" transform="rotate(-20 1086 975.2)" fill="none" stroke="#000" stroke-width="1.6" />
<ellipse cx="1158.3" cy="968" rx="3.5" ry="5" transform="rotate(-20 1158.3 968)" fill="none" stroke="#000" stroke-width="1.6" />
<g transform="translate(975.4 1083.5) rotate(-30)">
<path d="M6,-6 L34,-6 A3.7,6 0 0 1 34,6 L6,6 A3.7,6 0 0 1 6,-6Z" fill="#fff" stroke="#000" stroke-width="1.7" />
</g>
<path d="M982.9,1083.5 L979.1,1092.2 L971.6,1092.2 L967.9,1083.5 L971.6,1074.8 L979.1,1074.8Z" fill="#fff" stroke="#000" stroke-width="1.8" />
<path d="M674,338 L688,328" fill="none" stroke="#111" stroke-width="1.5" />
<path d="M603,376.9 L650.1,350.4" fill="none" stroke="#111" stroke-width="1.5" />
<path d="M555.8,404.2 L586.4,386" fill="none" stroke="#111" stroke-width="1.5" />
<path d="M462.3,458.8 L511.1,430.6" fill="none" stroke="#111" stroke-width="1.5" />
<path d="M440,468.7 L449.1,463.7" fill="none" stroke="#111" stroke-width="1.5" />
<path d="M414.2,485.4 L449,465" fill="none" stroke="#111" stroke-width="1.5" />
<path d="M293.9,555.2 L344.4,526.3" fill="none" stroke="#111" stroke-width="1.5" />
<path d="M242.2,585.2 L279.5,564.8" fill="none" stroke="#111" stroke-width="1.5" />
<path d="M293.7,1150.5 L329.5,1130.5" fill="none" stroke="#111" stroke-width="1.5" />
<path d="M340,1123.2 L381,1100" fill="none" stroke="#111" stroke-width="1.5" />
<path d="M419,1078 L450.5,1060" fill="none" stroke="#111" stroke-width="1.5" />
<path d="M466.3,1050.5 L506.3,1027.4" fill="none" stroke="#111" stroke-width="1.5" />
<path d="M533.7,1011.6 L560,996.8" fill="none" stroke="#111" stroke-width="1.5" />
<path d="M128,1244.7 L159.5,1227.5" fill="none" stroke="#111" stroke-width="1.5" />
<path d="M174.7,1219.4 L234.6,1184.8" fill="none" stroke="#111" stroke-width="1.5" />
<path d="M815.3,848.7 L857.9,824.2" fill="none" stroke="#111" stroke-width="1.5" />
<path d="M887.1,807.6 L919.5,788.7" fill="none" stroke="#111" stroke-width="1.5" />
<path d="M934.5,780 L970,759.5" fill="none" stroke="#111" stroke-width="1.5" />
<path d="M1017.4,732.6 L1037.1,720.8" fill="none" stroke="#111" stroke-width="1.5" />
<path d="M1040,710 L1060,700" fill="none" stroke="#111" stroke-width="1.5" />
<path d="M1070,690 L1100,680" fill="none" stroke="#111" stroke-width="1.5" />
<path d="M1171.2,94.6 L1171.2,128.5" fill="none" stroke="#111" stroke-width="1.5" />
<path d="M1171.2,178 L1171.2,197" fill="none" stroke="#111" stroke-width="1.5" />
<path d="M1171.2,208.6 L1171.2,226.7" fill="none" stroke="#111" stroke-width="1.5" />
<path d="M1171.2,259.4 L1171.2,322" fill="none" stroke="#111" stroke-width="1.5" />
<path d="M1171.2,94.6 L1171.2,128.5" fill="none" stroke="#111" stroke-width="1.5" />
<path d="M1171.2,259.4 L1171.2,322" fill="none" stroke="#111" stroke-width="1.5" />
<path d="M1171.2,300 L1171.2,330" fill="none" stroke="#111" stroke-width="1.5" />
<path d="M1148.6,431 L1148.6,446" fill="none" stroke="#111" stroke-width="1.5" />
<path d="M1193.9,407 L1193.9,419" fill="none" stroke="#111" stroke-width="1.5" />
<path d="M1148.6,453 L1148.6,520" fill="none" stroke="#111" stroke-width="1.5" />
<path d="M1193.9,453 L1193.9,490" fill="none" stroke="#111" stroke-width="1.5" />
<path d="M1302.7,567.7 L1343.7,544.3" fill="none" stroke="#111" stroke-width="1.5" />
<path d="M1362.3,532.5 L1386.7,518.9" fill="none" stroke="#111" stroke-width="1.5" />
<path d="M1502.9,835.8 L1522.2,845.9" fill="none" stroke="#111" stroke-width="1.5" />
<path d="M1533.8,852.8 L1560,867.5" fill="none" stroke="#111" stroke-width="1.5" />
<path d="M1606.5,894.8 L1639.8,913.4" fill="none" stroke="#111" stroke-width="1.5" />
<path d="M1685.7,939.8 L1707.2,952.5" fill="none" stroke="#111" stroke-width="1.5" />
<path d="M1726.8,964.2 L1762,983.8" fill="none" stroke="#111" stroke-width="1.5" />
<path d="M1219.6,45 L1248,45" fill="none" stroke="#222" stroke-width="1.4" />
<path d="M1212.8,101.4 L1248,101.4" fill="none" stroke="#222" stroke-width="1.4" />
<path d="M1176.7,147.7 L1248,147.7" fill="none" stroke="#222" stroke-width="1.4" />
<path d="M1182.4,199.6 L1248,199.6" fill="none" stroke="#222" stroke-width="1.4" />
<path d="M1183.5,240.2 L1248,240.2" fill="none" stroke="#222" stroke-width="1.4" />
<path d="M1182,288.7 L1248,288.7" fill="none" stroke="#222" stroke-width="1.4" />
<path d="M1209.3,348.1 L1248,348.1" fill="none" stroke="#222" stroke-width="1.4" />
<path d="M1204.2,416.5 L1248,416.5" fill="none" stroke="#222" stroke-width="1.4" />
<path d="M1235.5,416.5 L1190.7,442.3 L1159.4,442.3" fill="none" stroke="#222" stroke-width="1.4" />
<path d="M1336.9,474.9 L1336.9,521.8" fill="none" stroke="#222" stroke-width="1.4" />
<path d="M1395.5,455 L1395.5,497.4" fill="none" stroke="#222" stroke-width="1.4" />
<path d="M1421,668 L1421,763.3" fill="none" stroke="#222" stroke-width="1.4" />
<path d="M1486.4,709.3 L1486.4,777.2" fill="none" stroke="#222" stroke-width="1.4" />
<path d="M1565,754 L1565,821.2" fill="none" stroke="#222" stroke-width="1.4" />
<path d="M1622.2,782 L1622.2,846" fill="none" stroke="#222" stroke-width="1.4" />
<path d="M1694.5,826 L1694.5,874.3" fill="none" stroke="#222" stroke-width="1.4" />
<path d="M1751.8,863 L1751.8,935" fill="none" stroke="#222" stroke-width="1.4" />
<path d="M1773.7,997.5 L1773.7,1056" fill="none" stroke="#222" stroke-width="1.4" />
<path d="M1316,932.5 L1316,964 L1382,1007.5" fill="none" stroke="#222" stroke-width="1.4" />
<path d="M1422,865 L1422,902.5 L1382,1007.5 L1382,1022.5" fill="none" stroke="#222" stroke-width="1.4" />
<path d="M1368.6,895.5 L1368.6,918" fill="none" stroke="#222" stroke-width="1.4" />
<path d="M1177,842.5 L1219.5,842.5" fill="none" stroke="#222" stroke-width="1.4" />
<path d="M1180,884 L1219.5,884" fill="none" stroke="#222" stroke-width="1.4" />
<path d="M1068,1097.9 L1068,1152" fill="none" stroke="#222" stroke-width="1.4" />
<path d="M988.1,1079.8 L988.1,1152" fill="none" stroke="#222" stroke-width="1.4" />
<path d="M678.8,1113.2 L701.3,1126.7 L866,1126.7" fill="none" stroke="#222" stroke-width="1.4" />
<path d="M866,1003.7 L866,1160" fill="none" stroke="#222" stroke-width="1.4" />
<path d="M755.5,1050 L808.5,1050" fill="none" stroke="#222" stroke-width="1.4" />
<path d="M808.5,1021.8 L808.5,1074.8" fill="none" stroke="#222" stroke-width="1.4" />
<path d="M581.7,1007 L581.7,1113.7" fill="none" stroke="#222" stroke-width="1.4" />
<path d="M520,1081 L520,1113.7" fill="none" stroke="#222" stroke-width="1.4" />
<path d="M457.3,1085 L457.3,1113.7" fill="none" stroke="#222" stroke-width="1.4" />
<path d="M408.4,1143 L408.4,1173.7" fill="none" stroke="#222" stroke-width="1.4" />
<path d="M336.4,1202 L336.4,1231.6" fill="none" stroke="#222" stroke-width="1.4" />
<path d="M208.2,1296.5 L255,1296.5" fill="none" stroke="#222" stroke-width="1.4" />
<path d="M154.4,1258 L154.4,1269" fill="none" stroke="#222" stroke-width="1.4" />
<path d="M89.4,1203 L89.4,1232.5" fill="none" stroke="#222" stroke-width="1.4" />
<path d="M136.1,1109.7 L136.1,1140.2 L149.3,1163.5" fill="none" stroke="#222" stroke-width="1.4" />
<path d="M205.8,1071 L205.8,1102.6" fill="none" stroke="#222" stroke-width="1.4" />
<path d="M649.8,694.5 L649.8,751" fill="none" stroke="#222" stroke-width="1.4" />
<path d="M752.5,636.7 L752.5,667.2" fill="none" stroke="#222" stroke-width="1.4" />
<path d="M834.5,742.9 L834.5,772.9" fill="none" stroke="#222" stroke-width="1.4" />
<path d="M903.2,697.1 L903.2,765.8" fill="none" stroke="#222" stroke-width="1.4" />
<path d="M973.6,660 L973.6,701.8" fill="none" stroke="#222" stroke-width="1.4" />
<path d="M965,497.6 L1020.3,497.6 L1060.2,519.5" fill="none" stroke="#222" stroke-width="1.4" />
<path d="M825.8,264.5 L825.8,314" fill="none" stroke="#222" stroke-width="1.4" />
<path d="M665,408.3 L665,437.3" fill="none" stroke="#222" stroke-width="1.4" />
<path d="M600.5,416.6 L600.5,467.9" fill="none" stroke="#222" stroke-width="1.4" />
<path d="M534.8,486 L534.8,513" fill="none" stroke="#222" stroke-width="1.4" />
<path d="M469.5,510.7 L469.5,563.6" fill="none" stroke="#222" stroke-width="1.4" />
<path d="M391.3,597 L391.3,626" fill="none" stroke="#222" stroke-width="1.4" />
<path d="M312,643 L312,668" fill="none" stroke="#222" stroke-width="1.4" />
<path d="M233.7,632 L233.7,668" fill="none" stroke="#222" stroke-width="1.4" />
<path d="M216.9,483 L216.9,515.5 L255.4,534.7" fill="none" stroke="#222" stroke-width="1.4" />
<rect x="13.6" y="289.2" width="346.9" height="137.2" fill="none" stroke="#444" stroke-width="1.3"/>
<path d="M156.5,426.4 L156.5,728.5 L337.5,728.5 L920.8,397.5 L920.8,86 L409,375.5 L360.5,375.5" fill="none" stroke="#333" stroke-width="1.3" />
<text transform="translate(187 333.3) scale(0.86 1)" class="t1"><tspan font-weight="bold">Varianti / </tspan><tspan font-weight="bold" font-style="italic">Version</tspan></text>
<text transform="translate(187 372.3) scale(0.86 1)" class="t1">Albero Passante Femmina</text>
<text transform="translate(187 410.2) scale(0.86 1)" class="t1" font-style="italic">Throughshaft Female</text>
<text transform="translate(1276 55.7) scale(0.82 1)" class="n">52</text>
<text transform="translate(1276 112.9) scale(0.82 1)" class="n">53</text>
<text transform="translate(1276 160) scale(0.82 1)" class="n">54</text>
<text transform="translate(1276 210) scale(0.82 1)" class="n">55</text>
<text transform="translate(1276 251.5) scale(0.82 1)" class="n">56</text>
<text transform="translate(1276 299) scale(0.82 1)" class="n">57</text>
<text transform="translate(1276 359) scale(0.82 1)" class="n">58</text>
<text transform="translate(1276 427.5) scale(0.82 1)" class="n">59</text>
<text transform="translate(1336.5 462.5) scale(0.82 1)" class="n">60</text>
<text transform="translate(1394.5 446.5) scale(0.82 1)" class="n">61</text>
<text transform="translate(1420 656) scale(0.82 1)" class="n">62</text>
<text transform="translate(1486 695) scale(0.82 1)" class="n">63</text>
<text transform="translate(1565 741) scale(0.82 1)" class="n">64</text>
<text transform="translate(1622 771.5) scale(0.82 1)" class="n">65</text>
<text transform="translate(1695 814) scale(0.82 1)" class="n">66</text>
<text transform="translate(1752 851) scale(0.82 1)" class="n">67</text>
<text transform="translate(1773 1091.5) scale(0.82 1)" class="n">68</text>
<text transform="translate(1383 1061.5) scale(0.82 1)" class="n">69</text>
<text transform="translate(1368 957.5) scale(0.82 1)" class="n">70</text>
<text transform="translate(1246 855) scale(0.82 1)" class="n">71</text>
<text transform="translate(1246 896) scale(0.82 1)" class="n">72</text>
<text transform="translate(1068 1187.5) scale(0.82 1)" class="n">73</text>
<text transform="translate(988 1187.5) scale(0.82 1)" class="n">74</text>
<text transform="translate(865 1197.5) scale(0.82 1)" class="n">75</text>
<text transform="translate(809 1110) scale(0.82 1)" class="n">76</text>
<text transform="translate(581 1149) scale(0.82 1)" class="n">77</text>
<text transform="translate(520 1149) scale(0.82 1)" class="n">78</text>
<text transform="translate(457 1149) scale(0.82 1)" class="n">79</text>
<text transform="translate(409 1210) scale(0.82 1)" class="n">80</text>
<text transform="translate(335 1267.5) scale(0.82 1)" class="n">81</text>
<text transform="translate(283 1307.5) scale(0.82 1)" class="n">82</text>
<text transform="translate(155 1305) scale(0.82 1)" class="n">83</text>
<text transform="translate(90 1190) scale(0.82 1)" class="n">84</text>
<text transform="translate(136 1096) scale(0.82 1)" class="n">85</text>
<text transform="translate(205 1057.5) scale(0.82 1)" class="n">86</text>
<text transform="translate(650 680) scale(0.82 1)" class="n">87</text>
<text transform="translate(752 622.5) scale(0.82 1)" class="n">88</text>
<text transform="translate(834 729) scale(0.82 1)" class="n">89</text>
<text transform="translate(903 684) scale(0.82 1)" class="n">90</text>
<text transform="translate(972 649) scale(0.82 1)" class="n">91</text>
<text transform="translate(936 509) scale(0.82 1)" class="n">92</text>
<text transform="translate(825 350) scale(0.82 1)" class="n">93</text>
<text transform="translate(665 472.5) scale(0.82 1)" class="n">94</text>
<text transform="translate(600 502.5) scale(0.82 1)" class="n">95</text>
<text transform="translate(534 549) scale(0.82 1)" class="n">96</text>
<text transform="translate(469 597.5) scale(0.82 1)" class="n">97</text>
<text transform="translate(391 662.5) scale(0.82 1)" class="n">98</text>
<text transform="translate(311 705) scale(0.82 1)" class="n">99</text>
<text transform="translate(234 705) scale(0.82 1)" class="n">100</text>
<text transform="translate(216 468.6) scale(0.82 1)" class="n">101</text>
</svg></body></html>
